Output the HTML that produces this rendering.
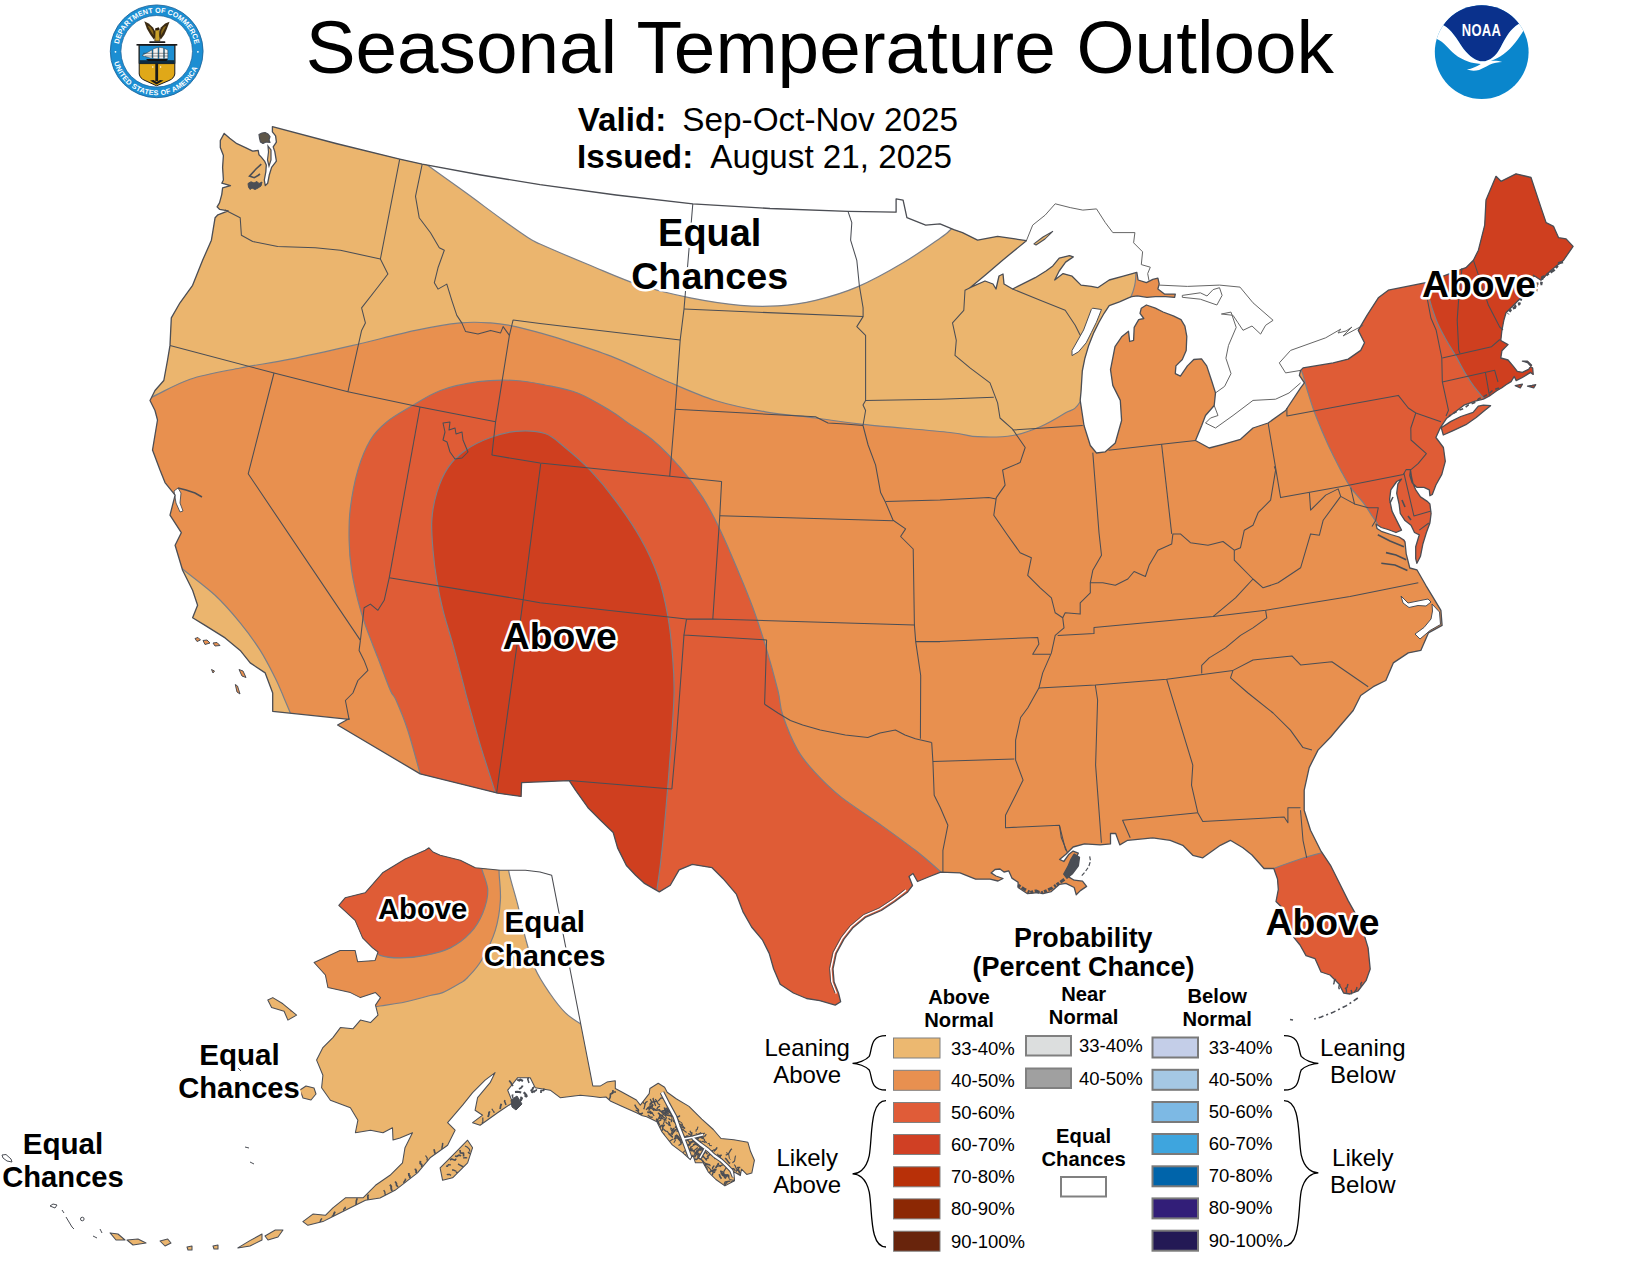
<!DOCTYPE html>
<html><head><meta charset="utf-8"><title>Seasonal Temperature Outlook</title>
<style>html,body{margin:0;padding:0;background:#fff}body{width:1638px;height:1266px;position:relative;overflow:hidden;font-family:"Liberation Sans",Arial,sans-serif}</style>
</head><body>
<svg width="1638" height="1266" viewBox="0 0 1638 1266" style="position:absolute;left:0;top:0">
<defs>
<clipPath id="us"><path d="M224.2,133.4 L229.7,138.2 L236.9,143.7 L245.5,147.6 L252.7,151.2 L258.2,150.4 L259.0,154.8 L261.3,157.1 L264.5,161.1 L266.3,165.0 L265.8,172.0 L264.3,180.0 L265.3,185.6 L267.7,183.2 L269.2,175.3 L271.6,167.4 L276.4,161.1 L274.8,151.6 L273.2,146.9 L276.4,142.1 L275.6,135.8 L272.4,131.8 L272.4,126.7 L336.0,143.5 L399.7,159.1 L422.2,164.1 L481.0,175.0 L540.0,184.6 L616.0,195.0 L692.8,203.9 L770.0,208.5 L848.0,211.4 L896.1,212.2 L896.1,198.9 L903.1,200.2 L906.9,217.7 L925.7,225.2 L940.0,223.9 L953.8,229.6 L962.5,232.6 L977.6,240.2 L997.6,236.4 L1015.1,238.9 L1026.4,240.7 L1002.6,260.2 L985.1,275.2 L970.0,287.7 L985.0,281.0 L993.0,284.0 L996.0,289.0 L999.0,276.0 L1003.0,274.0 L1004.0,284.0 L1012.6,289.0 L1035.2,277.7 L1046.0,271.0 L1052.8,265.9 L1059.2,258.2 L1069.5,255.6 L1073.3,256.9 L1065.6,262.1 L1059.2,271.0 L1054.7,280.0 L1063.1,273.6 L1072.1,276.2 L1081.0,285.1 L1091.3,286.4 L1097.7,287.7 L1109.2,280.0 L1123.3,276.2 L1136.8,272.3 L1138.1,280.0 L1146.4,282.6 L1152.8,279.4 L1157.9,278.1 L1159.2,283.8 L1157.9,289.0 L1164.4,294.1 L1175.3,294.1 L1174.6,297.3 L1165.6,296.7 L1155.4,296.7 L1147.0,297.3 L1137.4,295.8 L1131.7,296.7 L1128.5,297.9 L1119.5,301.8 L1109.2,305.6 L1104.1,313.3 L1099.0,322.3 L1093.8,332.6 L1088.7,345.4 L1084.9,358.2 L1082.3,371.0 L1081.0,392.0 L1080.2,400.4 L1084.0,425.5 L1090.3,445.5 L1096.5,453.0 L1105.3,451.8 L1115.3,443.0 L1121.6,420.5 L1120.3,400.4 L1112.8,385.4 L1110.5,369.7 L1115.0,346.7 L1122.0,336.4 L1128.5,331.3 L1129.7,341.5 L1133.6,340.3 L1134.2,327.4 L1138.7,319.7 L1143.8,318.5 L1140.0,313.3 L1141.3,308.2 L1146.4,305.0 L1155.4,308.2 L1163.1,312.0 L1173.3,315.9 L1181.0,319.7 L1184.9,326.2 L1186.8,336.4 L1186.2,350.5 L1182.3,359.5 L1175.9,365.9 L1175.3,373.6 L1180.4,376.2 L1187.4,365.9 L1193.8,359.5 L1201.5,358.8 L1206.7,365.9 L1211.8,381.3 L1215.5,392.9 L1214.2,405.5 L1205.5,415.5 L1201.7,425.5 L1195.5,440.5 L1209.2,448.0 L1223.0,444.3 L1240.5,439.3 L1253.0,428.0 L1268.1,423.0 L1285.6,410.5 L1300.6,387.9 L1304.4,382.9 L1299.4,375.4 L1300.6,370.4 L1303.1,367.9 L1333.2,362.9 L1348.2,359.1 L1360.7,350.4 L1364.5,342.8 L1358.2,330.3 L1367.0,315.3 L1378.3,297.8 L1388.3,290.2 L1425.8,282.7 L1465.9,267.7 L1473.4,260.2 L1478.4,250.2 L1484.7,225.1 L1486.0,200.1 L1496.0,176.3 L1501.0,181.3 L1516.0,173.8 L1531.0,177.5 L1541.0,207.6 L1546.1,222.6 L1553.6,226.4 L1558.6,237.7 L1566.1,238.9 L1573.1,246.4 L1563.6,260.2 L1551.1,270.2 L1541.0,280.2 L1533.5,275.2 L1528.5,290.2 L1516.0,302.8 L1506.0,312.8 L1503.9,320.0 L1501.9,330.3 L1500.8,340.5 L1508.0,344.6 L1501.9,350.8 L1500.8,358.0 L1508.0,360.0 L1513.2,366.2 L1517.3,371.3 L1522.4,372.4 L1528.6,369.3 L1531.6,365.2 L1527.5,361.1 L1522.4,361.1 L1527.5,362.6 L1532.7,368.3 L1533.2,374.4 L1530.6,372.4 L1522.4,377.5 L1516.2,380.6 L1514.2,376.5 L1511.1,381.6 L1506.0,384.7 L1501.9,387.8 L1496.7,390.8 L1489.5,396.0 L1483.4,399.1 L1475.2,401.1 L1463.9,405.2 L1455.7,411.4 L1446.4,418.6 L1440.3,427.8 L1435.9,437.5 L1443.4,447.5 L1445.3,461.3 L1441.8,474.4 L1435.9,485.0 L1432.3,494.5 L1429.9,495.7 L1429.3,489.8 L1424.0,487.4 L1416.9,487.4 L1412.2,482.7 L1409.8,475.6 L1410.5,470.0 L1411.5,477.0 L1413.0,483.5 L1415.7,489.8 L1420.5,496.9 L1427.6,501.6 L1429.9,504.0 L1431.1,513.5 L1429.9,523.0 L1426.4,532.5 L1422.8,544.3 L1420.5,556.2 L1416.9,563.3 L1415.7,558.5 L1415.7,546.7 L1419.3,534.8 L1414.5,532.5 L1411.0,525.3 L1405.0,520.6 L1400.3,513.5 L1399.1,504.0 L1396.7,493.3 L1397.9,483.9 L1401.5,479.1 L1396.7,481.5 L1390.8,489.8 L1389.6,499.3 L1392.0,511.1 L1396.7,520.6 L1401.5,530.1 L1396.0,532.5 L1388.0,529.5 L1381.3,527.5 L1376.0,524.0 L1377.0,528.5 L1381.3,531.3 L1390.8,534.5 L1399.1,537.0 L1403.9,540.0 L1405.0,541.9 L1406.2,553.8 L1409.8,568.0 L1416.9,569.8 L1425.8,585.3 L1433.4,597.8 L1440.9,610.3 L1442.1,625.4 L1428.4,632.9 L1420.8,650.4 L1408.3,652.9 L1393.3,662.9 L1385.8,680.5 L1373.3,686.7 L1360.7,695.5 L1353.2,710.5 L1338.2,728.0 L1330.7,737.0 L1318.0,750.1 L1309.2,767.6 L1304.2,790.2 L1304.2,810.2 L1310.5,830.2 L1320.5,850.3 L1330.5,865.3 L1338.0,880.3 L1348.0,900.4 L1360.6,922.9 L1368.1,947.9 L1370.2,969.0 L1366.2,980.3 L1358.0,991.0 L1350.0,994.0 L1343.6,993.0 L1339.0,984.0 L1330.0,975.0 L1321.0,972.0 L1315.0,958.6 L1306.0,955.6 L1300.0,945.0 L1294.0,937.6 L1285.0,910.5 L1276.0,901.5 L1278.3,889.5 L1277.5,879.0 L1273.8,868.5 L1264.0,868.5 L1252.0,855.0 L1242.9,847.8 L1230.3,840.3 L1220.3,845.3 L1202.8,857.8 L1192.8,855.3 L1182.8,845.3 L1170.2,840.3 L1152.7,837.8 L1127.7,840.3 L1119.8,844.9 L1115.7,833.5 L1110.5,833.5 L1110.5,843.9 L1100.1,844.9 L1084.5,843.9 L1073.1,847.0 L1065.9,854.2 L1059.6,859.4 L1063.8,861.5 L1069.0,854.2 L1073.1,851.1 L1078.3,853.2 L1074.2,861.5 L1070.0,869.8 L1069.0,877.1 L1074.2,880.2 L1082.5,881.2 L1086.6,886.4 L1080.4,890.6 L1076.2,894.7 L1074.2,887.5 L1065.9,883.3 L1059.6,884.3 L1051.3,891.6 L1043.0,893.7 L1037.8,892.7 L1027.5,893.7 L1018.1,887.5 L1018.1,882.3 L1011.9,878.1 L1008.8,870.9 L1004.0,872.0 L1000.0,869.0 L995.0,869.5 L991.1,872.9 L996.0,876.0 L1003.0,878.5 L998.0,881.0 L990.1,879.2 L975.6,879.2 L960.0,872.9 L940.7,872.1 L929.7,876.5 L917.5,881.5 L913.0,873.5 L909.0,876.5 L912.5,885.5 L907.7,891.9 L894.5,901.8 L881.3,910.5 L865.9,917.1 L852.7,928.1 L844.0,939.1 L836.3,953.4 L833.0,968.8 L834.1,982.0 L838.5,993.0 L840.7,1001.8 L835.2,1005.1 L819.8,1000.7 L806.6,998.5 L793.4,993.0 L780.2,984.2 L773.6,968.8 L769.2,953.4 L762.6,940.2 L751.6,927.0 L742.9,911.6 L736.3,894.1 L723.1,878.7 L712.1,867.7 L692.3,864.4 L679.1,869.9 L670.3,885.3 L659.3,891.9 L644.0,883.1 L635.6,875.3 L626.4,865.5 L617.6,847.9 L613.2,832.5 L600.5,820.2 L588.0,807.7 L575.5,790.2 L569.2,780.6 L521.6,782.6 L521.1,796.4 L497.8,793.2 L420.2,773.9 L337.6,725.0 L348.8,718.8 L349.1,719.3 L272.7,711.3 L272.7,693.0 L265.2,672.9 L250.2,662.9 L240.2,650.4 L225.1,637.9 L205.1,625.4 L192.6,617.8 L197.6,605.3 L192.6,590.3 L182.6,570.3 L175.1,545.2 L181.3,532.7 L170.0,515.2 L175.1,495.1 L165.0,482.6 L160.0,470.1 L152.5,450.0 L157.5,420.0 L155.0,410.5 L150.0,400.5 L155.0,390.5 L163.8,380.5 L167.5,360.4 L170.0,345.4 L171.3,317.9 L180.0,302.8 L192.6,285.3 L202.6,260.3 L211.4,240.2 L215.1,217.7 L217.9,214.8 L228.2,210.8 L219.5,209.3 L217.1,206.9 L219.5,202.9 L221.8,194.3 L222.6,187.9 L230.5,185.6 L221.8,183.2 L223.4,180.0 L222.6,167.4 L223.4,155.5 L220.3,147.6 L220.3,140.5ZM1441.3,427.8 L1450.5,421.6 L1460.8,416.5 L1473.1,412.4 L1478.3,406.2 L1483.4,405.2 L1490.6,405.7 L1483.4,411.4 L1476.2,417.5 L1465.9,424.7 L1452.6,430.9 L1443.3,435.0ZM1515.2,385.7 L1522.4,384.2 L1520.3,387.8ZM1527.5,386.2 L1533.7,387.8 L1535.7,384.7 L1532.0,385.5Z"/></clipPath>
<clipPath id="ak"><path d="M338.8,905.4 L345.1,897.8 L365.1,892.8 L382.6,872.8 L405.2,859.0 L425.2,850.3 L429.0,847.8 L433.0,852.0 L440.2,855.3 L460.3,860.3 L475.3,867.8 L500.4,870.3 L525.4,870.3 L540.0,872.0 L551.7,875.3 L592.8,1085.9 L600.5,1085.9 L606.9,1082.1 L615.3,1080.8 L615.3,1088.5 L622.3,1092.3 L636.4,1100.0 L640.3,1105.1 L649.2,1093.6 L649.9,1088.5 L658.2,1083.3 L664.6,1087.2 L667.2,1092.3 L676.2,1098.7 L689.0,1106.4 L701.8,1119.2 L713.3,1129.5 L721.0,1138.5 L733.8,1139.7 L747.9,1142.3 L750.5,1151.3 L754.4,1160.3 L751.8,1173.1 L746.7,1174.4 L741.5,1169.2 L740.3,1175.6 L733.8,1171.8 L734.5,1180.8 L724.9,1185.9 L715.9,1179.5 L708.2,1171.8 L703.1,1162.8 L695.4,1162.8 L693.0,1155.0 L690.3,1159.6 L682.6,1152.6 L672.3,1144.9 L662.0,1132.0 L656.9,1121.8 L646.7,1116.7 L641.5,1115.4 L636.4,1112.8 L622.3,1106.4 L610.8,1101.3 L606.0,1097.0 L600.0,1097.5 L592.8,1096.4 L580.3,1095.2 L560.2,1097.7 L550.2,1090.2 L535.2,1087.7 L530.2,1077.7 L517.7,1077.7 L507.7,1090.2 L512.7,1102.7 L497.6,1112.7 L480.1,1125.2 L472.6,1122.7 L482.6,1115.2 L475.1,1110.2 L477.6,1097.7 L490.1,1082.7 L495.1,1072.6 L485.1,1080.2 L472.6,1092.7 L462.6,1105.2 L447.6,1122.7 L455.1,1130.2 L447.6,1145.2 L430.1,1157.8 L417.5,1172.8 L395.0,1190.3 L380.0,1198.0 L365.5,1200.3 L350.4,1207.8 L335.4,1215.3 L322.9,1221.6 L307.9,1225.3 L302.9,1221.6 L312.9,1214.1 L325.4,1215.3 L332.9,1207.8 L345.4,1197.8 L363.0,1197.8 L375.5,1185.3 L390.0,1175.3 L402.5,1162.8 L405.0,1147.7 L412.5,1132.7 L400.0,1138.0 L393.0,1140.0 L392.5,1127.7 L383.0,1132.7 L370.5,1130.2 L355.4,1132.7 L357.9,1120.2 L350.4,1107.7 L330.4,1100.2 L321.6,1087.7 L322.9,1075.2 L316.6,1060.1 L322.9,1047.6 L332.9,1037.6 L340.4,1027.6 L352.9,1028.8 L360.4,1020.1 L370.5,1022.6 L378.0,1015.1 L375.5,1005.1 L380.5,997.6 L375.5,992.6 L360.4,997.6 L350.4,992.6 L327.9,987.5 L325.4,975.0 L314.1,962.5 L340.1,950.4 L355.1,950.4 L357.6,961.7 L375.1,960.4 L378.0,952.0 L372.6,947.9 L362.6,937.9 L355.1,920.4ZM267.8,1000.0 L272.8,997.6 L282.9,1003.8 L296.6,1015.1 L287.9,1020.1 L284.1,1011.3 L271.6,1007.6ZM300.0,1090.0 L306.0,1086.0 L314.0,1088.0 L316.0,1094.0 L311.0,1100.0 L303.0,1098.0ZM440.1,1167.8 L455.1,1152.8 L467.6,1140.2 L472.6,1147.7 L467.6,1162.8 L452.6,1177.8 L442.6,1180.3ZM237.8,1247.9 L250.3,1240.4 L262.0,1234.0 L262.0,1240.0 L250.0,1246.0ZM265.0,1236.0 L275.3,1230.0 L283.0,1230.0 L278.0,1237.0 L268.0,1240.0ZM110.1,1232.9 L118.0,1234.0 L125.0,1240.0 L116.0,1240.0ZM127.0,1240.0 L138.0,1239.0 L146.0,1243.0 L133.0,1245.0ZM160.0,1241.0 L167.7,1239.0 L171.0,1243.0 L165.0,1246.0ZM187.0,1247.0 L192.0,1246.0 L192.0,1250.0 L188.0,1250.0ZM213.0,1246.0 L218.0,1245.0 L218.0,1249.0 L214.0,1249.0Z"/></clipPath>
</defs>
<g clip-path="url(#us)">
<rect x="100" y="100" width="1538" height="950" fill="#e8904f"/>
<path d="M120.0,410.0C125.0,408.0 138.3,403.1 150.0,398.0C161.7,392.9 175.1,384.2 190.1,379.2C205.1,374.2 223.5,371.3 240.2,368.0C256.9,364.7 271.5,363.0 290.3,359.2C309.1,355.4 332.0,350.2 352.9,345.4C373.8,340.6 397.6,334.1 415.5,330.4C433.4,326.6 448.1,324.1 460.6,322.9C473.1,321.6 481.4,322.3 490.6,322.9C499.8,323.5 507.5,324.9 515.7,326.6C523.9,328.3 531.8,330.6 540.0,332.9C548.2,335.2 552.5,336.2 565.0,340.4C577.5,344.6 598.4,351.2 615.1,357.9C631.8,364.6 648.5,373.4 665.2,380.5C681.9,387.6 698.6,395.3 715.3,400.5C732.0,405.7 748.7,408.9 765.4,411.8C782.1,414.7 799.2,415.9 815.5,418.0C831.8,420.1 840.6,421.9 863.0,424.3C885.4,426.7 930.9,430.4 950.0,432.5C969.1,434.6 967.2,436.2 977.6,436.7C988.0,437.2 1002.2,437.2 1012.6,435.5C1023.0,433.8 1031.4,430.4 1040.2,426.7C1049.0,422.9 1058.5,417.2 1065.2,413.0C1071.9,408.8 1073.6,412.2 1080.2,401.7C1086.8,391.2 1096.4,367.7 1105.0,350.0C1113.6,332.3 1126.4,308.3 1131.6,295.3C1136.8,282.3 1135.1,281.2 1136.0,272.0C1136.9,262.8 1136.8,245.3 1137.0,240.0L1137,100 L100,100 L100,410Z" fill="#ebb56e"/>
<path d="M170.0,557.0C172.1,559.0 175.1,562.6 182.6,569.0C190.1,575.4 205.5,586.3 215.1,595.3C224.7,604.3 232.7,613.7 240.2,622.9C247.7,632.1 254.4,641.2 260.2,650.4C266.0,659.6 271.2,670.0 275.2,677.9C279.2,685.8 281.5,692.1 284.0,698.0C286.5,703.9 288.6,708.5 290.3,713.0C292.0,717.5 293.4,723.0 294.0,725.0L150,730 L130,557Z" fill="#ebb56e"/>
<path d="M415.0,155.0C417.2,156.8 419.6,159.3 428.0,165.6C436.4,171.9 453.1,183.5 465.6,192.6C478.1,201.7 492.7,212.7 503.1,220.2C513.5,227.7 522.1,233.7 528.2,237.7C534.4,241.7 529.7,239.4 540.0,244.0C550.3,248.6 573.3,258.4 590.0,265.3C606.7,272.2 623.5,279.9 640.2,285.3C656.9,290.7 673.6,294.5 690.3,297.8C707.0,301.1 725.7,304.0 740.3,305.3C754.9,306.6 765.4,306.6 777.9,305.8C790.4,305.0 802.1,303.5 815.5,300.3C828.9,297.1 843.4,292.9 858.0,286.6C872.6,280.4 889.3,271.0 903.1,262.8C916.9,254.7 932.9,243.1 940.7,237.7C948.5,232.3 946.5,233.5 950.0,230.2C953.5,226.9 960.0,220.0 962.0,218.0L962,100 L415,100Z" fill="#fff"/>
<path d="M430.0,810.0C428.4,804.0 423.9,787.2 420.2,773.9C416.5,760.6 411.7,742.3 407.7,730.0C403.7,717.7 398.9,706.6 396.0,700.0C393.1,693.4 393.4,697.5 390.4,690.5C387.4,683.5 382.1,668.8 377.9,657.9C373.7,647.0 368.7,635.0 365.4,625.4C362.1,615.8 360.2,609.5 357.9,600.3C355.6,591.1 353.1,580.3 351.6,570.3C350.1,560.3 349.3,550.6 349.1,540.2C348.9,529.8 348.9,519.4 350.4,507.7C351.9,496.0 354.6,481.4 357.9,470.1C361.2,458.8 365.6,448.0 370.4,440.0C375.2,432.0 380.0,427.5 386.7,422.0C393.4,416.5 401.5,412.1 410.5,406.8C419.5,401.6 429.2,394.7 440.5,390.5C451.8,386.3 465.6,383.4 478.1,381.7C490.6,380.0 504.6,379.9 515.7,380.5C526.9,381.1 534.7,382.9 545.0,385.0C555.3,387.1 566.8,388.8 577.6,393.0C588.5,397.2 601.7,405.5 610.1,410.5C618.5,415.5 620.9,418.1 628.0,423.0C635.1,427.9 644.0,432.6 652.7,440.0C661.4,447.4 671.9,458.0 680.2,467.6C688.6,477.2 696.1,487.2 702.8,497.6C709.5,508.0 714.5,518.1 720.3,530.2C726.1,542.3 732.4,557.4 737.8,570.3C743.2,583.2 748.3,595.3 752.9,607.8C757.5,620.3 761.2,631.6 765.4,645.4C769.6,659.2 775.0,678.9 777.9,690.5C780.8,702.1 779.4,705.1 782.7,715.0C786.0,724.9 792.3,740.5 797.7,750.1C803.1,759.7 808.1,764.9 815.2,772.6C822.3,780.3 829.9,788.0 840.3,796.4C850.7,804.8 865.3,813.7 877.8,822.7C890.3,831.7 905.0,842.2 915.4,850.3C925.8,858.4 933.8,865.7 940.4,871.5C947.0,877.3 952.6,882.8 955.0,885.0L955,1030 L430,1030Z" fill="#df5c36"/>
<path d="M505.0,830.0C503.4,823.8 499.4,806.9 495.3,792.7C491.2,778.6 484.9,760.6 480.3,745.1C475.7,729.6 470.4,710.4 467.5,700.0C464.6,689.6 465.5,692.1 463.1,683.0C460.7,673.9 456.5,657.5 453.1,645.4C449.8,633.3 445.7,621.1 443.0,610.3C440.3,599.4 438.5,590.3 436.8,580.3C435.1,570.3 433.8,560.2 433.0,550.2C432.2,540.2 431.2,529.8 431.8,520.2C432.4,510.6 434.1,501.4 436.8,492.6C439.5,483.8 443.2,474.7 448.0,467.6C452.8,460.5 458.5,455.0 465.6,450.0C472.7,445.0 482.2,440.6 490.6,437.5C499.0,434.4 506.6,432.0 515.7,431.3C524.8,430.6 536.8,430.8 545.0,433.5C553.2,436.2 557.5,441.4 565.0,447.5C572.5,453.6 581.8,461.3 590.1,470.1C598.5,478.9 606.8,488.8 615.1,500.1C623.5,511.4 633.1,525.2 640.2,537.7C647.3,550.2 653.1,562.4 657.7,575.3C662.3,588.2 665.2,601.5 667.7,615.3C670.2,629.1 671.7,644.5 672.7,657.9C673.8,671.3 674.4,680.1 674.0,695.5C673.6,710.9 672.0,730.6 670.6,750.1C669.2,769.6 667.3,793.9 665.6,812.7C663.9,831.5 662.1,849.9 660.6,862.8C659.1,875.7 658.0,881.6 656.9,890.3C655.8,899.0 654.5,910.9 654.0,915.0L654,1000 L505,1000Z" fill="#cf3f1f"/>
<path d="M1298.0,355.0C1298.4,357.1 1299.8,364.5 1300.6,367.9C1301.4,371.3 1301.8,371.2 1303.1,375.4C1304.3,379.6 1306.0,386.2 1308.1,392.9C1310.2,399.6 1312.3,406.8 1315.7,415.5C1319.1,424.2 1324.0,435.9 1328.2,445.0C1332.4,454.1 1337.0,463.0 1340.7,470.1C1344.5,477.2 1347.0,482.2 1350.7,487.6C1354.5,493.0 1359.4,497.6 1363.2,502.6C1367.0,507.6 1370.5,513.8 1373.3,517.7C1376.1,521.6 1376.9,523.5 1380.0,526.0C1383.1,528.5 1388.2,530.5 1392.0,533.0C1395.8,535.5 1400.1,538.0 1403.0,541.0C1405.9,544.0 1407.8,547.7 1409.5,551.0C1411.2,554.3 1411.8,558.4 1413.0,561.0C1414.2,563.6 1412.5,565.3 1417.0,566.5C1421.5,567.7 1436.2,567.8 1440.0,568.0L1640,592 L1640,100 L1298,100Z" fill="#df5c36"/>
<path d="M1426.0,275.0C1426.2,276.7 1426.6,281.6 1427.0,285.0C1427.4,288.4 1426.9,289.5 1428.4,295.3C1429.9,301.1 1433.4,312.8 1436.2,320.0C1439.0,327.2 1442.2,332.5 1445.4,338.5C1448.7,344.5 1452.3,349.9 1455.7,355.9C1459.1,361.9 1462.8,369.3 1465.9,374.4C1469.0,379.5 1471.2,382.8 1474.1,386.7C1477.0,390.6 1479.9,393.9 1483.4,398.0C1486.9,402.1 1493.1,408.8 1495.0,411.0L1640,412 L1640,100 L1426,100Z" fill="#cf3f1f"/>
<path d="M1255.0,876.0C1258.2,874.7 1265.8,871.4 1274.2,868.3C1282.6,865.2 1297.6,859.9 1305.5,857.3C1313.4,854.7 1316.0,854.5 1321.7,852.8C1327.5,851.1 1337.0,848.0 1340.0,847.0L1400,847 L1400,1010 L1255,1010Z" fill="#df5c36"/>
<path d="M120.0,410.0C125.0,408.0 138.3,403.1 150.0,398.0C161.7,392.9 175.1,384.2 190.1,379.2C205.1,374.2 223.5,371.3 240.2,368.0C256.9,364.7 271.5,363.0 290.3,359.2C309.1,355.4 332.0,350.2 352.9,345.4C373.8,340.6 397.6,334.1 415.5,330.4C433.4,326.6 448.1,324.1 460.6,322.9C473.1,321.6 481.4,322.3 490.6,322.9C499.8,323.5 507.5,324.9 515.7,326.6C523.9,328.3 531.8,330.6 540.0,332.9C548.2,335.2 552.5,336.2 565.0,340.4C577.5,344.6 598.4,351.2 615.1,357.9C631.8,364.6 648.5,373.4 665.2,380.5C681.9,387.6 698.6,395.3 715.3,400.5C732.0,405.7 748.7,408.9 765.4,411.8C782.1,414.7 799.2,415.9 815.5,418.0C831.8,420.1 840.6,421.9 863.0,424.3C885.4,426.7 930.9,430.4 950.0,432.5C969.1,434.6 967.2,436.2 977.6,436.7C988.0,437.2 1002.2,437.2 1012.6,435.5C1023.0,433.8 1031.4,430.4 1040.2,426.7C1049.0,422.9 1058.5,417.2 1065.2,413.0C1071.9,408.8 1073.6,412.2 1080.2,401.7C1086.8,391.2 1096.4,367.7 1105.0,350.0C1113.6,332.3 1126.4,308.3 1131.6,295.3C1136.8,282.3 1135.1,281.2 1136.0,272.0C1136.9,262.8 1136.8,245.3 1137.0,240.0" fill="none" stroke="#7b7f87" stroke-width="1.2"/>
<path d="M170.0,557.0C172.1,559.0 175.1,562.6 182.6,569.0C190.1,575.4 205.5,586.3 215.1,595.3C224.7,604.3 232.7,613.7 240.2,622.9C247.7,632.1 254.4,641.2 260.2,650.4C266.0,659.6 271.2,670.0 275.2,677.9C279.2,685.8 281.5,692.1 284.0,698.0C286.5,703.9 288.6,708.5 290.3,713.0C292.0,717.5 293.4,723.0 294.0,725.0" fill="none" stroke="#7b7f87" stroke-width="1.2"/>
<path d="M415.0,155.0C417.2,156.8 419.6,159.3 428.0,165.6C436.4,171.9 453.1,183.5 465.6,192.6C478.1,201.7 492.7,212.7 503.1,220.2C513.5,227.7 522.1,233.7 528.2,237.7C534.4,241.7 529.7,239.4 540.0,244.0C550.3,248.6 573.3,258.4 590.0,265.3C606.7,272.2 623.5,279.9 640.2,285.3C656.9,290.7 673.6,294.5 690.3,297.8C707.0,301.1 725.7,304.0 740.3,305.3C754.9,306.6 765.4,306.6 777.9,305.8C790.4,305.0 802.1,303.5 815.5,300.3C828.9,297.1 843.4,292.9 858.0,286.6C872.6,280.4 889.3,271.0 903.1,262.8C916.9,254.7 932.9,243.1 940.7,237.7C948.5,232.3 946.5,233.5 950.0,230.2C953.5,226.9 960.0,220.0 962.0,218.0" fill="none" stroke="#7b7f87" stroke-width="1.2"/>
<path d="M430.0,810.0C428.4,804.0 423.9,787.2 420.2,773.9C416.5,760.6 411.7,742.3 407.7,730.0C403.7,717.7 398.9,706.6 396.0,700.0C393.1,693.4 393.4,697.5 390.4,690.5C387.4,683.5 382.1,668.8 377.9,657.9C373.7,647.0 368.7,635.0 365.4,625.4C362.1,615.8 360.2,609.5 357.9,600.3C355.6,591.1 353.1,580.3 351.6,570.3C350.1,560.3 349.3,550.6 349.1,540.2C348.9,529.8 348.9,519.4 350.4,507.7C351.9,496.0 354.6,481.4 357.9,470.1C361.2,458.8 365.6,448.0 370.4,440.0C375.2,432.0 380.0,427.5 386.7,422.0C393.4,416.5 401.5,412.1 410.5,406.8C419.5,401.6 429.2,394.7 440.5,390.5C451.8,386.3 465.6,383.4 478.1,381.7C490.6,380.0 504.6,379.9 515.7,380.5C526.9,381.1 534.7,382.9 545.0,385.0C555.3,387.1 566.8,388.8 577.6,393.0C588.5,397.2 601.7,405.5 610.1,410.5C618.5,415.5 620.9,418.1 628.0,423.0C635.1,427.9 644.0,432.6 652.7,440.0C661.4,447.4 671.9,458.0 680.2,467.6C688.6,477.2 696.1,487.2 702.8,497.6C709.5,508.0 714.5,518.1 720.3,530.2C726.1,542.3 732.4,557.4 737.8,570.3C743.2,583.2 748.3,595.3 752.9,607.8C757.5,620.3 761.2,631.6 765.4,645.4C769.6,659.2 775.0,678.9 777.9,690.5C780.8,702.1 779.4,705.1 782.7,715.0C786.0,724.9 792.3,740.5 797.7,750.1C803.1,759.7 808.1,764.9 815.2,772.6C822.3,780.3 829.9,788.0 840.3,796.4C850.7,804.8 865.3,813.7 877.8,822.7C890.3,831.7 905.0,842.2 915.4,850.3C925.8,858.4 933.8,865.7 940.4,871.5C947.0,877.3 952.6,882.8 955.0,885.0" fill="none" stroke="#7b7f87" stroke-width="1.2"/>
<path d="M505.0,830.0C503.4,823.8 499.4,806.9 495.3,792.7C491.2,778.6 484.9,760.6 480.3,745.1C475.7,729.6 470.4,710.4 467.5,700.0C464.6,689.6 465.5,692.1 463.1,683.0C460.7,673.9 456.5,657.5 453.1,645.4C449.8,633.3 445.7,621.1 443.0,610.3C440.3,599.4 438.5,590.3 436.8,580.3C435.1,570.3 433.8,560.2 433.0,550.2C432.2,540.2 431.2,529.8 431.8,520.2C432.4,510.6 434.1,501.4 436.8,492.6C439.5,483.8 443.2,474.7 448.0,467.6C452.8,460.5 458.5,455.0 465.6,450.0C472.7,445.0 482.2,440.6 490.6,437.5C499.0,434.4 506.6,432.0 515.7,431.3C524.8,430.6 536.8,430.8 545.0,433.5C553.2,436.2 557.5,441.4 565.0,447.5C572.5,453.6 581.8,461.3 590.1,470.1C598.5,478.9 606.8,488.8 615.1,500.1C623.5,511.4 633.1,525.2 640.2,537.7C647.3,550.2 653.1,562.4 657.7,575.3C662.3,588.2 665.2,601.5 667.7,615.3C670.2,629.1 671.7,644.5 672.7,657.9C673.8,671.3 674.4,680.1 674.0,695.5C673.6,710.9 672.0,730.6 670.6,750.1C669.2,769.6 667.3,793.9 665.6,812.7C663.9,831.5 662.1,849.9 660.6,862.8C659.1,875.7 658.0,881.6 656.9,890.3C655.8,899.0 654.5,910.9 654.0,915.0" fill="none" stroke="#7b7f87" stroke-width="1.2"/>
<path d="M1298.0,355.0C1298.4,357.1 1299.8,364.5 1300.6,367.9C1301.4,371.3 1301.8,371.2 1303.1,375.4C1304.3,379.6 1306.0,386.2 1308.1,392.9C1310.2,399.6 1312.3,406.8 1315.7,415.5C1319.1,424.2 1324.0,435.9 1328.2,445.0C1332.4,454.1 1337.0,463.0 1340.7,470.1C1344.5,477.2 1347.0,482.2 1350.7,487.6C1354.5,493.0 1359.4,497.6 1363.2,502.6C1367.0,507.6 1370.8,514.1 1373.3,517.7C1375.8,521.4 1377.2,523.4 1378.0,524.5" fill="none" stroke="#7b7f87" stroke-width="1.2"/>
<path d="M1426.0,275.0C1426.2,276.7 1426.6,281.6 1427.0,285.0C1427.4,288.4 1426.9,289.5 1428.4,295.3C1429.9,301.1 1433.4,312.8 1436.2,320.0C1439.0,327.2 1442.2,332.5 1445.4,338.5C1448.7,344.5 1452.3,349.9 1455.7,355.9C1459.1,361.9 1462.8,369.3 1465.9,374.4C1469.0,379.5 1471.2,382.8 1474.1,386.7C1477.0,390.6 1479.9,393.9 1483.4,398.0C1486.9,402.1 1493.1,408.8 1495.0,411.0" fill="none" stroke="#7b7f87" stroke-width="1.2"/>
<path d="M1255.0,876.0C1258.2,874.7 1265.8,871.4 1274.2,868.3C1282.6,865.2 1297.6,859.9 1305.5,857.3C1313.4,854.7 1316.0,854.5 1321.7,852.8C1327.5,851.1 1337.0,848.0 1340.0,847.0" fill="none" stroke="#7b7f87" stroke-width="1.2"/>
<path d="M1092.6,308.2 L1101.5,309.5 L1096.4,322.3 L1091.3,332.6 L1086.2,342.8 L1078.5,351.8 L1072.0,355.6 L1072.0,350.5 L1078.5,339.0 L1083.6,330.0 L1091.3,309.5Z" fill="#fff" stroke="#4b4e55" stroke-width="1"/>
<path d="M261.3,164.2 L256.0,169.0 L249.5,176.1 L254.2,177.7 L258.0,175.5 L260.0,174.0" fill="none" stroke="#4b4e55" stroke-width="1.6"/>
<path d="M248.0,183.5 L251.0,181.8 L254.0,183.0 L257.0,181.5 L259.0,183.5 L262.0,182.0 L261.0,186.0 L258.0,188.0 L255.0,189.5 L252.0,188.0 L250.0,189.5 L248.5,187.0Z" fill="#4b4e55" stroke="#4b4e55" stroke-width="1" stroke-linejoin="round"/>
<path d="M1401,596 L1408,603 L1418,601 L1428,599 L1431,602 L1426,606 L1418,605.5 L1409,607.5 L1403,603Z M1432,604 L1439.5,612 L1440.5,624.5 L1430,630.5 L1420,639 L1415,634 L1424,627.5 L1431,619 L1432.5,611Z" fill="#fff" stroke="#4b4e55" stroke-width="1"/>
<path d="M174,491 L178,488 L181,493 L180,503 L183,511 L180,512 L176,503Z" fill="#fff" stroke="#4b4e55" stroke-width="0.9"/>
<path d="M178,488 L186,490 L195,493 L202,497" fill="none" stroke="#4b4e55" stroke-width="1.5"/>
<path d="M836.3,993.5 L831.9,982.3 L830.8,968.8 L834.2,952.8 L842.2,938 L851.2,926.5 L864.7,915.2 L880.2,908.6 L893.3,900 L906,890.2" fill="none" stroke="#fff" stroke-width="1.5"/><path d="M836.3,993.5 L831.9,982.3 L830.8,968.8 L834.2,952.8 L842.2,938 L851.2,926.5 L864.7,915.2 L880.2,908.6 L893.3,900 L906,890.2" fill="none" stroke="#4b4e55" stroke-width="0.9" transform="translate(-1.3,-0.5)"/>
</g>
<path d="M1563.0,262.0 L1559.0,263.1 L1557.7,265.6 L1554.0,270.0 L1548.5,273.6 L1545.3,276.1 L1542.4,277.2 L1541.2,283.9 L1536.6,283.7 L1536.2,290.3 L1532.8,290.4 L1531.9,291.4 L1528.2,295.6 L1521.4,297.6 L1519.2,304.1 L1515.5,305.8 L1514.8,307.6 L1511.3,308.8 L1508.0,314.0" fill="none" stroke="#4b4e55" stroke-width="2.6" stroke-dasharray="5 2 3 2"/>
<path d="M1499.0,388.0 L1492.9,390.1 L1489.4,393.4 L1483.6,396.6 L1478.9,398.7 L1474.7,402.5 L1468.4,405.0 L1464.1,408.5 L1459.6,409.9 L1455.2,412.3 L1449.0,416.0" fill="none" stroke="#4b4e55" stroke-width="1.6" stroke-dasharray="4 3"/>
<g fill="none" stroke="#4b4e55" stroke-width="1.05" stroke-linejoin="round">
<path d="M225.0,210.0 L240.2,217.7 L241.4,235.2 L252.7,241.5 L277.7,246.5 L315.3,247.7 L340.4,250.3 L380.4,259.0"/>
<path d="M399.7,159.1 L380.4,259.0 L387.9,274.0 L375.4,290.3 L361.6,307.9 L365.4,322.9 L361.6,330.4 L347.9,391.8"/>
<path d="M170.0,345.4 L274.0,373.0 L347.9,391.8 L420.0,407.0 L495.6,421.8"/>
<path d="M274.0,373.0 L248.2,473.8 L360.4,640.4"/>
<path d="M360.4,640.4 L359.1,650.4 L364.1,660.4 L367.9,670.4 L357.9,680.5 L352.9,693.0 L345.4,700.5 L349.1,719.3"/>
<path d="M360.4,640.4 L364.1,607.8 L370.4,604.1 L377.9,610.3 L384.2,600.3 L389.2,577.8"/>
<path d="M420.0,407.0 L389.2,577.8"/>
<path d="M389.2,577.8 L523.2,599.8 L540.0,602.8 L686.5,619.1 L712.8,619.1 L914.4,624.9"/>
<path d="M422.2,164.1 L415.5,196.4 L419.2,217.7 L430.5,232.7 L439.3,247.7 L444.3,250.3 L438.0,267.8 L434.3,282.8 L438.0,289.1 L446.8,284.1 L451.8,300.3 L456.8,315.4 L461.8,322.9 L465.6,331.6 L478.0,334.0 L490.6,330.4 L500.6,332.9 L503.1,326.6 L509.4,335.4"/>
<path d="M513.1,319.9 L509.4,335.4 L495.6,421.8 L491.9,455.1"/>
<path d="M513.1,319.9 L540.0,323.4 L680.2,339.9"/>
<path d="M491.9,455.1 L540.0,463.1 L721.6,481.4"/>
<path d="M540.7,463.8 L523.2,599.8"/>
<path d="M523.2,599.8 L496.6,793.2"/>
<path d="M692.8,203.9 L684.0,309.1 L680.2,339.9 L675.2,409.3 L669.7,476.3"/>
<path d="M684.0,309.1 L863.1,316.6"/>
<path d="M675.2,409.3 L815.5,416.8 L828.0,423.0 L845.0,424.0 L863.0,425.5"/>
<path d="M848.0,211.4 L851.8,222.7 L850.6,240.2 L856.8,260.3 L859.3,285.3 L863.1,307.8 L863.1,316.6 L856.8,326.6 L865.6,335.4 L865.6,400.5 L863.0,405.0 L865.6,410.5 L863.0,425.5"/>
<path d="M865.0,400.5 L940.0,399.2 L993.8,397.2"/>
<path d="M721.6,481.4 L719.8,515.7 L712.8,619.1"/>
<path d="M719.8,515.7 L893.1,520.7"/>
<path d="M686.5,619.1 L684.0,634.9 L766.6,639.9 L764.6,704.2"/>
<path d="M684.0,634.9 L676.5,737.0 L671.9,788.9"/>
<path d="M569.2,780.6 L671.9,788.9"/>
<path d="M764.6,704.2 L777.9,713.0 L790.4,720.5 L802.7,725.0 L820.2,730.0 L845.3,735.1 L867.8,737.6 L880.0,733.0 L895.4,730.0 L905.0,735.0 L915.4,738.8 L931.7,742.6"/>
<path d="M863.0,425.5 L868.1,445.0 L875.6,465.1 L880.6,492.6 L885.6,502.6 L893.1,520.2 L905.6,528.9 L900.6,536.5 L913.2,549.0 L914.4,624.9 L915.7,641.6 L920.7,675.5 L920.4,738.8"/>
<path d="M885.6,501.4 L940.0,500.1 L988.8,497.6 L996.0,499.0"/>
<path d="M915.7,641.6 L940.0,641.6 L1037.7,637.4 L1038.9,644.1 L1032.7,654.2 L1050.2,654.2"/>
<path d="M931.7,742.6 L932.9,761.4 L934.2,795.2 L940.4,807.7 L947.9,825.2 L942.9,850.3 L942.9,872.8"/>
<path d="M932.9,761.4 L1014.3,758.9"/>
<path d="M970.0,287.7 L965.0,290.2 L963.8,310.3 L952.5,322.8 L956.3,340.3 L955.0,355.4 L970.0,367.9 L990.0,382.9 L997.6,402.9 L1000.0,418.0 L1012.6,429.2 L1025.2,447.5 L1020.1,462.6 L1002.6,470.1 L1005.1,485.1 L996.3,497.6 L993.8,515.2 L1007.6,535.2 L1020.1,552.7 L1031.4,557.7 L1027.7,575.3 L1040.2,587.8 L1051.4,597.8 L1055.2,612.8 L1062.7,617.8 L1064.0,627.9 L1055.2,635.4 L1051.4,652.9 L1042.7,672.9 L1038.9,688.0 L1027.7,708.0 L1020.6,717.5 L1015.6,740.1 L1015.6,760.1 L1023.1,780.1 L1015.6,795.2 L1005.5,815.2 L1005.5,827.7 L1059.4,825.2 L1065.7,850.3"/>
<path d="M1012.6,430.0 L1082.7,425.5"/>
<path d="M1012.6,289.0 L1040.2,300.3 L1065.2,310.3 L1075.2,325.3 L1080.2,335.3"/>
<path d="M1092.8,452.6 L1099.0,532.7 L1101.5,555.2 L1092.8,570.3 L1090.3,582.8"/>
<path d="M1062.7,617.8 L1065.2,612.8 L1080.2,614.1 L1080.2,602.8 L1090.3,592.8 L1090.3,582.8 L1102.8,582.8 L1115.3,585.3 L1127.8,579.0 L1134.1,571.5 L1145.4,576.5 L1149.1,565.3 L1157.9,550.2 L1171.7,544.0 L1172.9,533.9 L1180.4,533.9 L1190.4,542.7 L1208.0,545.2 L1223.0,541.5 L1234.3,550.2 L1240.5,547.7 L1244.3,530.2 L1253.0,525.2 L1258.1,512.7 L1270.6,500.1 L1275.6,470.1 L1274.3,466.3"/>
<path d="M1108.5,450.3 L1161.6,444.3 L1195.5,440.5"/>
<path d="M1161.6,444.3 L1171.7,533.9"/>
<path d="M1268.1,423.0 L1280.6,497.6 L1350.0,485.1 L1403.3,474.4 L1406.2,469.6 L1411.0,469.6"/>
<path d="M1286.9,408.0 L1286.9,416.0 L1350.0,404.2 L1398.3,395.4 L1408.3,408.0 L1415.8,413.0"/>
<path d="M1415.8,413.0 L1410.8,428.0 L1411.0,440.0 L1426.4,453.6 L1418.1,463.7 L1411.0,469.6"/>
<path d="M1415.8,413.0 L1440.9,421.7"/>
<path d="M1427.1,285.0 L1427.1,297.8 L1430.9,318.0 L1436.2,330.3 L1441.8,358.0 L1442.3,381.6 L1448.5,410.3 L1446.0,416.0"/>
<path d="M1462.0,268.0 L1458.4,302.8 L1457.2,320.0 L1458.7,349.8 L1460.0,353.5"/>
<path d="M1442.3,358.0 L1491.6,346.7 L1499.8,339.5"/>
<path d="M1473.4,260.2 L1488.5,305.3 L1499.7,327.0 L1503.0,330.0"/>
<path d="M1442.3,382.1 L1494.7,370.3 L1496.7,377.5 L1498.0,382.0"/>
<path d="M1485.4,372.4 L1489.5,396.0"/>
<path d="M1309.4,492.6 L1310.6,510.2 L1325.7,495.1 L1338.2,488.9 L1340.7,496.4 L1354.5,503.9 L1350.7,487.6"/>
<path d="M1354.5,503.9 L1368.2,507.7 L1378.3,507.7 L1375.8,520.2 L1372.0,526.4"/>
<path d="M1340.7,496.4 L1323.2,520.2 L1319.4,535.2 L1310.6,533.9 L1300.6,567.8 L1278.1,582.8 L1263.1,587.8 L1253.0,579.0 L1234.3,560.2 L1234.3,550.2"/>
<path d="M1253.0,579.0 L1235.5,597.8 L1213.0,616.6"/>
<path d="M1057.7,635.4 L1094.0,633.4 L1094.0,627.4 L1213.0,616.6 L1265.6,610.3 L1350.0,596.6 L1418.3,582.8"/>
<path d="M1038.9,688.0 L1095.3,685.0 L1166.6,679.2 L1233.0,670.4"/>
<path d="M1265.6,610.3 L1266.8,617.8 L1253.0,627.9 L1240.5,635.4 L1225.5,647.9 L1209.2,657.9 L1201.7,665.4 L1201.7,673.4"/>
<path d="M1233.0,670.4 L1253.0,660.0 L1291.9,655.9 L1300.6,664.9 L1331.9,661.7 L1368.2,686.7"/>
<path d="M1233.0,670.4 L1230.5,677.9 L1248.0,693.0 L1273.1,713.0 L1290.4,730.1 L1303.0,747.6 L1312.0,750.0"/>
<path d="M1095.3,685.0 L1097.6,700.0 L1095.6,765.1 L1101.4,842.8"/>
<path d="M1166.6,679.2 L1192.8,765.1 L1191.5,785.2 L1197.8,812.7"/>
<path d="M1130.2,837.8 L1122.6,820.2 L1197.8,812.7"/>
<path d="M1197.8,812.7 L1202.8,821.5 L1284.2,817.0 L1287.9,822.7 L1287.9,807.7 L1300.5,807.7"/>
<path d="M1059.4,825.2 L1061.3,837.8 L1067.5,852.8"/>
<path d="M1403.9,473.2 L1413.9,515.9 L1431.1,511.1"/>
<path d="M1419.3,530.1 L1428.8,523.0"/>
<path d="M1300.5,810.2 L1303.0,840.3 L1306.7,857.8"/>
<path d="M443.0,423.0 L450.0,422.0 L449.0,430.0 L455.0,428.0 L456.0,434.0 L462.0,432.0 L463.0,440.0 L468.0,452.0 L462.0,458.0 L455.0,459.0 L450.0,452.0 L447.0,442.0 L443.0,440.0 L445.0,432.0Z"/>
<path d="M1026.4,240.7 L1032.7,225.1 L1045.2,215.1 L1055.2,203.8 L1070.2,207.6 L1082.8,210.1 L1096.5,208.9 L1105.3,222.6 L1112.8,232.6 L1134.9,232.6 L1133.6,242.8 L1142.6,251.8 L1141.3,264.6 L1150.3,267.2 L1147.7,273.6 L1149.0,280.6" stroke="#666" stroke-width="1"/>
<path d="M1159.2,285.1 L1187.4,286.4 L1219.5,285.1 L1240.0,287.1 L1253.0,302.8 L1273.1,320.3 L1265.6,325.3 L1260.6,334.1 L1252.0,326.0 L1243.0,330.3 L1238.0,322.8 L1233.0,315.3 L1221.4,314.0 L1231.0,312.1 L1236.2,327.4 L1228.5,345.4 L1225.9,358.2 L1231.0,373.6 L1224.6,386.4 L1215.5,392.9" stroke="#666" stroke-width="1"/>
<path d="M1182.3,295.4 L1200.3,292.8 L1207.0,296.0 L1213.1,289.6 L1219.5,287.7 L1222.1,295.4 L1216.9,305.0 L1200.3,299.2 L1182.3,297.3 L1182.3,295.4" stroke="#666" stroke-width="1"/>
<path d="M1214.2,405.5 L1218.0,415.5 L1210.5,418.0 L1205.5,423.0 L1215.5,428.0 L1233.0,415.5 L1253.0,400.4 L1275.6,399.2 L1289.0,393.0 L1300.6,382.9" stroke="#666" stroke-width="1"/>
<path d="M1300.6,370.4 L1285.6,372.9 L1279.3,362.9 L1290.6,350.4 L1325.7,337.8 L1340.7,329.1 L1338.0,333.0 L1346.0,331.0 L1352.0,327.0 L1343.0,336.0 L1363.2,325.3" stroke="#666" stroke-width="1"/>
<path d="M1033.9,243.9 L1043.0,237.0 L1052.7,231.4 L1045.0,239.0 L1036.0,245.0Z" fill="#e8b46b"/>
</g>
<path d="M268.0,146.0 L271.0,150.0 L271.0,160.0 L269.0,166.0 L267.5,160.0 L268.5,152.0Z" fill="#ebb56e" stroke="#4b4e55" stroke-width="1.2"/>
<path d="M259.0,134.5 L262.0,133.0 L265.0,132.5 L268.0,134.0 L270.0,136.5 L269.0,140.0 L270.0,142.5 L266.0,142.0 L263.0,143.5 L260.5,142.0 L259.5,138.0Z" fill="#5e5648" stroke="#4b4e55" stroke-width="1.2" stroke-linejoin="round"/>
<path d="M1074.2,854.2 L1079.4,857.4 L1078.3,865.7 L1072.1,874.0 L1066.9,878.1 L1063.8,874.0 L1067.9,866.7 L1071.0,859.4Z" fill="#4b4e55" stroke="#4b4e55" stroke-width="1.5" stroke-linejoin="round"/>
<path d="M1018.0,885.0 L1024.0,889.0 L1030.0,892.5 L1036.0,891.0 L1041.0,893.0 L1047.0,890.5 L1052.0,888.0 L1057.0,884.5 L1062.0,881.0 L1066.0,878.0" fill="none" stroke="#4b4e55" stroke-width="3" stroke-dasharray="3 1.5 5 2 2 1" stroke-linejoin="round"/>
<path d="M1089.7,856.3 L1090.5,861.0 L1088.7,866.7 L1085.0,872.0 L1080.4,877.1" fill="none" stroke="#4b4e55" stroke-width="1.2" stroke-dasharray="4 2"/>
<path d="M195.0,638.5 L198.0,637.5 L200.5,640.0 L197.0,641.5Z" fill="#e8904f" stroke="#4b4e55" stroke-width="1"/>
<path d="M203.0,640.5 L207.0,640.0 L210.0,643.0 L205.0,644.5Z" fill="#e8904f" stroke="#4b4e55" stroke-width="1"/>
<path d="M213.0,643.0 L217.0,642.5 L220.0,645.5 L215.0,646.0Z" fill="#e8904f" stroke="#4b4e55" stroke-width="1"/>
<path d="M211.5,669.5 L214.5,671.0 L213.0,673.0Z" fill="#e8904f" stroke="#4b4e55" stroke-width="1"/>
<path d="M239.0,669.5 L243.0,671.0 L246.0,677.5 L242.0,676.0Z" fill="#e8904f" stroke="#4b4e55" stroke-width="1"/>
<path d="M235.3,684.5 L237.5,686.0 L240.0,694.0 L237.0,692.0Z" fill="#e8904f" stroke="#4b4e55" stroke-width="1"/>
<path d="M1357.8,998.0 L1346.5,1005.6 L1332.5,1012.6 L1321.2,1016.9 L1314.2,1019.1" fill="none" stroke="#4b4e55" stroke-width="1.6" stroke-dasharray="5 3 2 3"/>
<path d="M1290,1019.5 l3,0.5" stroke="#4b4e55" stroke-width="1.4"/>
<path d="M1340.0,984.0 L1339.1,985.7 L1338.8,987.9 L1339.5,989.3" fill="none" stroke="#4b4e55" stroke-width="1.4"/>
<path d="M1345.0,988.0 L1346.3,989.2 L1346.4,991.3 L1346.6,992.7" fill="none" stroke="#4b4e55" stroke-width="1.4"/>
<path d="M1351.0,990.0 L1351.8,992.3 L1351.3,993.2 L1351.5,994.4" fill="none" stroke="#4b4e55" stroke-width="1.4"/>
<path d="M1357.0,987.0 L1356.4,989.7 L1355.9,990.0 L1354.4,992.1" fill="none" stroke="#4b4e55" stroke-width="1.4"/>
<path d="M1362.0,982.0 L1360.8,983.6 L1360.9,984.6 L1361.3,987.0" fill="none" stroke="#4b4e55" stroke-width="1.4"/>
<path d="M1336.0,979.0 L1334.4,980.3 L1334.0,983.3 L1333.4,984.3" fill="none" stroke="#4b4e55" stroke-width="1.4"/>
<path d="M1348.0,984.0 L1347.3,986.2 L1347.0,987.6 L1345.5,988.3" fill="none" stroke="#4b4e55" stroke-width="1.4"/>
<path d="M1377.8,534.8 L1390.0,541.0 L1403.9,546.7" fill="none" stroke="#4b4e55" stroke-width="1.6"/>
<path d="M1386.0,552.6 L1396.0,555.0 L1406.2,559.7" fill="none" stroke="#4b4e55" stroke-width="1.6"/>
<path d="M1381.3,563.3 L1395.0,565.0 L1407.4,570.4" fill="none" stroke="#4b4e55" stroke-width="1.6"/>
<path d="M1393.0,497.0 L1390.0,503.0" fill="none" stroke="#4b4e55" stroke-width="1.6"/>
<path d="M1402.0,500.0 L1405.0,507.0" fill="none" stroke="#4b4e55" stroke-width="1.6"/>
<path d="M1408.0,516.0 L1411.0,520.0" fill="none" stroke="#4b4e55" stroke-width="1.6"/>
<path d="M224.2,133.4 L229.7,138.2 L236.9,143.7 L245.5,147.6 L252.7,151.2 L258.2,150.4 L259.0,154.8 L261.3,157.1 L264.5,161.1 L266.3,165.0 L265.8,172.0 L264.3,180.0 L265.3,185.6 L267.7,183.2 L269.2,175.3 L271.6,167.4 L276.4,161.1 L274.8,151.6 L273.2,146.9 L276.4,142.1 L275.6,135.8 L272.4,131.8 L272.4,126.7 L336.0,143.5 L399.7,159.1 L422.2,164.1 L481.0,175.0 L540.0,184.6 L616.0,195.0 L692.8,203.9 L770.0,208.5 L848.0,211.4 L896.1,212.2 L896.1,198.9 L903.1,200.2 L906.9,217.7 L925.7,225.2 L940.0,223.9 L953.8,229.6 L962.5,232.6 L977.6,240.2 L997.6,236.4 L1015.1,238.9 L1026.4,240.7 L1002.6,260.2 L985.1,275.2 L970.0,287.7 L985.0,281.0 L993.0,284.0 L996.0,289.0 L999.0,276.0 L1003.0,274.0 L1004.0,284.0 L1012.6,289.0 L1035.2,277.7 L1046.0,271.0 L1052.8,265.9 L1059.2,258.2 L1069.5,255.6 L1073.3,256.9 L1065.6,262.1 L1059.2,271.0 L1054.7,280.0 L1063.1,273.6 L1072.1,276.2 L1081.0,285.1 L1091.3,286.4 L1097.7,287.7 L1109.2,280.0 L1123.3,276.2 L1136.8,272.3 L1138.1,280.0 L1146.4,282.6 L1152.8,279.4 L1157.9,278.1 L1159.2,283.8 L1157.9,289.0 L1164.4,294.1 L1175.3,294.1 L1174.6,297.3 L1165.6,296.7 L1155.4,296.7 L1147.0,297.3 L1137.4,295.8 L1131.7,296.7 L1128.5,297.9 L1119.5,301.8 L1109.2,305.6 L1104.1,313.3 L1099.0,322.3 L1093.8,332.6 L1088.7,345.4 L1084.9,358.2 L1082.3,371.0 L1081.0,392.0 L1080.2,400.4 L1084.0,425.5 L1090.3,445.5 L1096.5,453.0 L1105.3,451.8 L1115.3,443.0 L1121.6,420.5 L1120.3,400.4 L1112.8,385.4 L1110.5,369.7 L1115.0,346.7 L1122.0,336.4 L1128.5,331.3 L1129.7,341.5 L1133.6,340.3 L1134.2,327.4 L1138.7,319.7 L1143.8,318.5 L1140.0,313.3 L1141.3,308.2 L1146.4,305.0 L1155.4,308.2 L1163.1,312.0 L1173.3,315.9 L1181.0,319.7 L1184.9,326.2 L1186.8,336.4 L1186.2,350.5 L1182.3,359.5 L1175.9,365.9 L1175.3,373.6 L1180.4,376.2 L1187.4,365.9 L1193.8,359.5 L1201.5,358.8 L1206.7,365.9 L1211.8,381.3 L1215.5,392.9 L1214.2,405.5 L1205.5,415.5 L1201.7,425.5 L1195.5,440.5 L1209.2,448.0 L1223.0,444.3 L1240.5,439.3 L1253.0,428.0 L1268.1,423.0 L1285.6,410.5 L1300.6,387.9 L1304.4,382.9 L1299.4,375.4 L1300.6,370.4 L1303.1,367.9 L1333.2,362.9 L1348.2,359.1 L1360.7,350.4 L1364.5,342.8 L1358.2,330.3 L1367.0,315.3 L1378.3,297.8 L1388.3,290.2 L1425.8,282.7 L1465.9,267.7 L1473.4,260.2 L1478.4,250.2 L1484.7,225.1 L1486.0,200.1 L1496.0,176.3 L1501.0,181.3 L1516.0,173.8 L1531.0,177.5 L1541.0,207.6 L1546.1,222.6 L1553.6,226.4 L1558.6,237.7 L1566.1,238.9 L1573.1,246.4 L1563.6,260.2 L1551.1,270.2 L1541.0,280.2 L1533.5,275.2 L1528.5,290.2 L1516.0,302.8 L1506.0,312.8 L1503.9,320.0 L1501.9,330.3 L1500.8,340.5 L1508.0,344.6 L1501.9,350.8 L1500.8,358.0 L1508.0,360.0 L1513.2,366.2 L1517.3,371.3 L1522.4,372.4 L1528.6,369.3 L1531.6,365.2 L1527.5,361.1 L1522.4,361.1 L1527.5,362.6 L1532.7,368.3 L1533.2,374.4 L1530.6,372.4 L1522.4,377.5 L1516.2,380.6 L1514.2,376.5 L1511.1,381.6 L1506.0,384.7 L1501.9,387.8 L1496.7,390.8 L1489.5,396.0 L1483.4,399.1 L1475.2,401.1 L1463.9,405.2 L1455.7,411.4 L1446.4,418.6 L1440.3,427.8 L1435.9,437.5 L1443.4,447.5 L1445.3,461.3 L1441.8,474.4 L1435.9,485.0 L1432.3,494.5 L1429.9,495.7 L1429.3,489.8 L1424.0,487.4 L1416.9,487.4 L1412.2,482.7 L1409.8,475.6 L1410.5,470.0 L1411.5,477.0 L1413.0,483.5 L1415.7,489.8 L1420.5,496.9 L1427.6,501.6 L1429.9,504.0 L1431.1,513.5 L1429.9,523.0 L1426.4,532.5 L1422.8,544.3 L1420.5,556.2 L1416.9,563.3 L1415.7,558.5 L1415.7,546.7 L1419.3,534.8 L1414.5,532.5 L1411.0,525.3 L1405.0,520.6 L1400.3,513.5 L1399.1,504.0 L1396.7,493.3 L1397.9,483.9 L1401.5,479.1 L1396.7,481.5 L1390.8,489.8 L1389.6,499.3 L1392.0,511.1 L1396.7,520.6 L1401.5,530.1 L1396.0,532.5 L1388.0,529.5 L1381.3,527.5 L1376.0,524.0 L1377.0,528.5 L1381.3,531.3 L1390.8,534.5 L1399.1,537.0 L1403.9,540.0 L1405.0,541.9 L1406.2,553.8 L1409.8,568.0 L1416.9,569.8 L1425.8,585.3 L1433.4,597.8 L1440.9,610.3 L1442.1,625.4 L1428.4,632.9 L1420.8,650.4 L1408.3,652.9 L1393.3,662.9 L1385.8,680.5 L1373.3,686.7 L1360.7,695.5 L1353.2,710.5 L1338.2,728.0 L1330.7,737.0 L1318.0,750.1 L1309.2,767.6 L1304.2,790.2 L1304.2,810.2 L1310.5,830.2 L1320.5,850.3 L1330.5,865.3 L1338.0,880.3 L1348.0,900.4 L1360.6,922.9 L1368.1,947.9 L1370.2,969.0 L1366.2,980.3 L1358.0,991.0 L1350.0,994.0 L1343.6,993.0 L1339.0,984.0 L1330.0,975.0 L1321.0,972.0 L1315.0,958.6 L1306.0,955.6 L1300.0,945.0 L1294.0,937.6 L1285.0,910.5 L1276.0,901.5 L1278.3,889.5 L1277.5,879.0 L1273.8,868.5 L1264.0,868.5 L1252.0,855.0 L1242.9,847.8 L1230.3,840.3 L1220.3,845.3 L1202.8,857.8 L1192.8,855.3 L1182.8,845.3 L1170.2,840.3 L1152.7,837.8 L1127.7,840.3 L1119.8,844.9 L1115.7,833.5 L1110.5,833.5 L1110.5,843.9 L1100.1,844.9 L1084.5,843.9 L1073.1,847.0 L1065.9,854.2 L1059.6,859.4 L1063.8,861.5 L1069.0,854.2 L1073.1,851.1 L1078.3,853.2 L1074.2,861.5 L1070.0,869.8 L1069.0,877.1 L1074.2,880.2 L1082.5,881.2 L1086.6,886.4 L1080.4,890.6 L1076.2,894.7 L1074.2,887.5 L1065.9,883.3 L1059.6,884.3 L1051.3,891.6 L1043.0,893.7 L1037.8,892.7 L1027.5,893.7 L1018.1,887.5 L1018.1,882.3 L1011.9,878.1 L1008.8,870.9 L1004.0,872.0 L1000.0,869.0 L995.0,869.5 L991.1,872.9 L996.0,876.0 L1003.0,878.5 L998.0,881.0 L990.1,879.2 L975.6,879.2 L960.0,872.9 L940.7,872.1 L929.7,876.5 L917.5,881.5 L913.0,873.5 L909.0,876.5 L912.5,885.5 L907.7,891.9 L894.5,901.8 L881.3,910.5 L865.9,917.1 L852.7,928.1 L844.0,939.1 L836.3,953.4 L833.0,968.8 L834.1,982.0 L838.5,993.0 L840.7,1001.8 L835.2,1005.1 L819.8,1000.7 L806.6,998.5 L793.4,993.0 L780.2,984.2 L773.6,968.8 L769.2,953.4 L762.6,940.2 L751.6,927.0 L742.9,911.6 L736.3,894.1 L723.1,878.7 L712.1,867.7 L692.3,864.4 L679.1,869.9 L670.3,885.3 L659.3,891.9 L644.0,883.1 L635.6,875.3 L626.4,865.5 L617.6,847.9 L613.2,832.5 L600.5,820.2 L588.0,807.7 L575.5,790.2 L569.2,780.6 L521.6,782.6 L521.1,796.4 L497.8,793.2 L420.2,773.9 L337.6,725.0 L348.8,718.8 L349.1,719.3 L272.7,711.3 L272.7,693.0 L265.2,672.9 L250.2,662.9 L240.2,650.4 L225.1,637.9 L205.1,625.4 L192.6,617.8 L197.6,605.3 L192.6,590.3 L182.6,570.3 L175.1,545.2 L181.3,532.7 L170.0,515.2 L175.1,495.1 L165.0,482.6 L160.0,470.1 L152.5,450.0 L157.5,420.0 L155.0,410.5 L150.0,400.5 L155.0,390.5 L163.8,380.5 L167.5,360.4 L170.0,345.4 L171.3,317.9 L180.0,302.8 L192.6,285.3 L202.6,260.3 L211.4,240.2 L215.1,217.7 L217.9,214.8 L228.2,210.8 L219.5,209.3 L217.1,206.9 L219.5,202.9 L221.8,194.3 L222.6,187.9 L230.5,185.6 L221.8,183.2 L223.4,180.0 L222.6,167.4 L223.4,155.5 L220.3,147.6 L220.3,140.5ZM1441.3,427.8 L1450.5,421.6 L1460.8,416.5 L1473.1,412.4 L1478.3,406.2 L1483.4,405.2 L1490.6,405.7 L1483.4,411.4 L1476.2,417.5 L1465.9,424.7 L1452.6,430.9 L1443.3,435.0ZM1515.2,385.7 L1522.4,384.2 L1520.3,387.8ZM1527.5,386.2 L1533.7,387.8 L1535.7,384.7 L1532.0,385.5Z" fill="none" stroke="#4b4e55" stroke-width="1.3" stroke-linejoin="round"/>
<g clip-path="url(#ak)">
<rect x="0" y="830" width="800" height="436" fill="#ebb56e"/>
<path d="M509.1,860.0C509.1,862.1 507.6,865.2 509.1,872.8C510.6,880.4 515.2,894.5 517.9,905.4C520.6,916.2 522.5,927.3 525.4,937.9C528.3,948.5 531.1,959.6 535.3,969.0C539.4,978.4 545.3,986.7 550.3,994.0C555.3,1001.3 560.2,1007.6 565.2,1012.6C570.2,1017.6 575.3,1020.4 580.3,1023.8C585.3,1027.2 592.5,1031.5 595.0,1033.0L640,1033 L640,840 L509,840Z" fill="#fff"/>
<path d="M499.1,858.0C499.1,860.5 498.9,865.8 499.1,872.8C499.3,879.8 501.0,890.7 500.4,900.3C499.8,909.9 498.4,920.4 495.3,930.4C492.2,940.4 486.1,952.4 481.5,960.2C476.9,968.1 471.1,973.7 467.6,977.5C464.1,981.3 464.5,980.5 460.3,983.0C456.1,985.5 447.6,990.5 442.6,992.6C437.6,994.7 436.5,993.9 430.2,995.5C423.9,997.1 413.4,1000.2 405.0,1002.0C396.6,1003.8 387.5,1004.8 380.0,1006.0C372.5,1007.2 363.3,1008.5 360.0,1009.0L290,1012 L290,830 L499,830Z" fill="#e8904f"/>
<path d="M481.6,856.0C481.6,858.0 480.6,862.1 481.6,867.8C482.6,873.5 487.6,882.8 487.8,890.3C488.0,897.8 485.7,905.8 482.8,912.9C479.9,920.0 475.7,927.1 470.3,932.9C464.9,938.7 457.8,944.1 450.3,947.9C442.8,951.6 433.6,953.7 425.2,955.4C416.8,957.1 407.7,957.9 400.2,957.9C392.7,957.9 384.7,957.1 380.1,955.4C375.5,953.7 376.8,950.5 372.6,947.9C368.4,945.3 357.9,941.3 355.0,940.0L330,935 L320,830 L481,830Z" fill="#df5c36"/>
<path d="M509.1,860.0C509.1,862.1 507.6,865.2 509.1,872.8C510.6,880.4 515.2,894.5 517.9,905.4C520.6,916.2 522.5,927.3 525.4,937.9C528.3,948.5 531.1,959.6 535.3,969.0C539.4,978.4 545.3,986.7 550.3,994.0C555.3,1001.3 560.2,1007.6 565.2,1012.6C570.2,1017.6 575.3,1020.4 580.3,1023.8C585.3,1027.2 592.5,1031.5 595.0,1033.0" fill="none" stroke="#7b7f87" stroke-width="1.2"/>
<path d="M499.1,858.0C499.1,860.5 498.9,865.8 499.1,872.8C499.3,879.8 501.0,890.7 500.4,900.3C499.8,909.9 498.4,920.4 495.3,930.4C492.2,940.4 486.1,952.4 481.5,960.2C476.9,968.1 471.1,973.7 467.6,977.5C464.1,981.3 464.5,980.5 460.3,983.0C456.1,985.5 447.6,990.5 442.6,992.6C437.6,994.7 436.5,993.9 430.2,995.5C423.9,997.1 413.4,1000.2 405.0,1002.0C396.6,1003.8 387.5,1004.8 380.0,1006.0C372.5,1007.2 363.3,1008.5 360.0,1009.0" fill="none" stroke="#7b7f87" stroke-width="1.2"/>
<path d="M481.6,856.0C481.6,858.0 480.6,862.1 481.6,867.8C482.6,873.5 487.6,882.8 487.8,890.3C488.0,897.8 485.7,905.8 482.8,912.9C479.9,920.0 475.7,927.1 470.3,932.9C464.9,938.7 457.8,944.1 450.3,947.9C442.8,951.6 433.6,953.7 425.2,955.4C416.8,957.1 407.7,957.9 400.2,957.9C392.7,957.9 384.7,957.1 380.1,955.4C375.5,953.7 376.8,950.5 372.6,947.9C368.4,945.3 357.9,941.3 355.0,940.0" fill="none" stroke="#7b7f87" stroke-width="1.2"/>
</g>
<g clip-path="url(#ak)" fill="none" stroke="#4b4e55" stroke-linejoin="round">
<path d="M670.0,1128.0 L671.5,1128.3 L673.0,1130.4 L673.2,1132.8" stroke-width="1.2"/>
<path d="M742.3,1184.9 L739.5,1181.9 L738.2,1180.3 L737.3,1179.4" stroke-width="1.2"/>
<path d="M654.1,1110.7 L653.5,1108.4 L652.0,1107.8 L652.3,1105.3" stroke-width="1.5"/>
<path d="M694.4,1157.4 L696.0,1154.8 L696.6,1152.3 L697.2,1151.4" stroke-width="1.6"/>
<path d="M702.1,1137.3 L704.5,1139.7 L704.5,1140.9 L706.8,1142.7" stroke-width="1.2"/>
<path d="M670.1,1111.5 L666.7,1111.4 L665.4,1113.0 L663.2,1114.3" stroke-width="1.3"/>
<path d="M688.9,1151.4 L690.8,1149.8 L690.5,1149.0 L692.7,1149.1" stroke-width="1.6"/>
<path d="M736.8,1187.9 L738.2,1187.0 L739.2,1184.7 L740.6,1181.7" stroke-width="1.6"/>
<path d="M661.7,1110.7 L662.0,1112.5 L665.5,1113.5 L665.9,1114.3" stroke-width="1.6"/>
<path d="M710.2,1166.3 L709.6,1164.5 L707.6,1164.1 L706.1,1164.0" stroke-width="1.2"/>
<path d="M704.5,1164.6 L702.3,1166.6 L700.2,1169.5 L698.2,1170.3" stroke-width="1.5"/>
<path d="M742.9,1183.9 L743.8,1182.1 L745.7,1181.0 L746.4,1179.9" stroke-width="1.1"/>
<path d="M730.8,1183.6 L731.8,1181.5 L734.6,1180.4 L734.6,1177.5" stroke-width="1.1"/>
<path d="M688.6,1138.7 L686.8,1136.5 L684.8,1137.2 L683.6,1136.1" stroke-width="1.4"/>
<path d="M732.2,1187.0 L734.4,1188.4 L735.5,1189.1 L736.5,1188.5" stroke-width="1.3"/>
<path d="M701.5,1138.6 L702.0,1135.5 L702.6,1134.2 L704.8,1133.0" stroke-width="1.4"/>
<path d="M663.1,1112.0 L662.8,1113.9 L665.9,1115.8 L665.6,1115.9" stroke-width="1.2"/>
<path d="M661.1,1131.2 L662.9,1129.2 L662.6,1126.8 L664.6,1124.7" stroke-width="1.7"/>
<path d="M688.7,1136.5 L685.7,1139.0 L684.8,1138.6 L681.9,1141.0" stroke-width="1.7"/>
<path d="M682.5,1137.6 L681.0,1139.7 L681.0,1144.1 L678.5,1145.5" stroke-width="1.4"/>
<path d="M673.8,1121.8 L673.4,1121.5 L674.3,1119.8 L675.9,1118.4" stroke-width="1.3"/>
<path d="M708.8,1165.0 L707.3,1164.5 L703.6,1162.3 L702.4,1160.9" stroke-width="1.4"/>
<path d="M737.9,1169.3 L738.4,1170.3 L741.5,1174.8 L742.8,1175.8" stroke-width="1.3"/>
<path d="M665.8,1112.0 L667.1,1109.9 L668.0,1108.9 L667.9,1106.0" stroke-width="1.2"/>
<path d="M648.1,1107.1 L649.5,1107.0 L651.8,1108.6 L653.8,1110.2" stroke-width="1.1"/>
<path d="M747.8,1182.6 L748.0,1184.3 L745.4,1186.0 L745.2,1186.1" stroke-width="1.3"/>
<path d="M696.0,1131.8 L696.2,1129.7 L697.1,1129.5 L698.0,1126.7" stroke-width="1.1"/>
<path d="M728.2,1174.6 L726.6,1175.1 L726.0,1177.4 L723.8,1177.8" stroke-width="1.3"/>
<path d="M686.1,1149.2 L687.3,1149.7 L688.1,1151.7 L689.9,1152.0" stroke-width="1.7"/>
<path d="M655.7,1106.0 L654.7,1103.5 L653.3,1099.8 L653.1,1097.9" stroke-width="1.4"/>
<path d="M675.0,1123.0 L677.2,1123.4 L678.9,1124.1 L682.6,1125.5" stroke-width="1.7"/>
<path d="M662.3,1112.7 L662.4,1111.1 L665.0,1110.6 L665.3,1108.4" stroke-width="1.7"/>
<path d="M749.5,1182.4 L751.4,1184.1 L754.3,1185.5 L754.9,1186.2" stroke-width="1.5"/>
<path d="M664.2,1107.5 L665.6,1110.7 L666.0,1112.0 L668.6,1113.9" stroke-width="1.6"/>
<path d="M738.4,1188.4 L739.3,1187.1 L739.5,1185.2 L740.6,1182.6" stroke-width="1.2"/>
<path d="M693.9,1151.0 L694.5,1150.3 L697.4,1148.0 L697.5,1147.2" stroke-width="1.2"/>
<path d="M664.5,1134.4 L661.5,1132.3 L659.2,1131.3 L658.4,1128.1" stroke-width="1.2"/>
<path d="M694.8,1141.7 L695.2,1142.3 L698.3,1142.8 L699.2,1143.5" stroke-width="1.2"/>
<path d="M686.9,1149.8 L684.3,1151.3 L682.5,1153.2 L680.8,1154.0" stroke-width="1.1"/>
<path d="M666.2,1110.0 L667.4,1110.3 L669.4,1112.5 L669.8,1113.1" stroke-width="1.7"/>
<path d="M735.9,1173.1 L739.5,1174.2 L741.9,1175.7 L743.4,1177.3" stroke-width="1.2"/>
<path d="M730.9,1184.2 L730.8,1186.6 L731.9,1186.9 L734.3,1187.3" stroke-width="1.6"/>
<path d="M735.4,1170.8 L733.7,1168.7 L730.8,1168.7 L730.0,1168.0" stroke-width="1.4"/>
<path d="M679.6,1128.1 L683.1,1129.4 L683.4,1130.1 L686.6,1132.5" stroke-width="1.1"/>
<path d="M732.6,1169.3 L730.2,1168.7 L730.3,1167.9 L728.5,1165.7" stroke-width="1.4"/>
<path d="M693.7,1143.9 L693.8,1144.7 L696.9,1143.9 L697.6,1145.6" stroke-width="1.6"/>
<path d="M703.1,1150.5 L702.1,1148.1 L699.8,1148.7 L700.1,1145.9" stroke-width="1.3"/>
<path d="M690.5,1149.6 L688.5,1150.5 L686.7,1153.5 L685.0,1155.5" stroke-width="1.0"/>
<path d="M725.5,1166.4 L726.0,1166.6 L729.3,1169.6 L730.7,1170.4" stroke-width="1.1"/>
<path d="M666.8,1118.3 L665.2,1115.5 L665.2,1113.4 L664.4,1111.7" stroke-width="1.0"/>
<path d="M658.2,1101.1 L661.0,1097.9 L663.4,1098.3 L664.5,1095.1" stroke-width="1.3"/>
<path d="M699.6,1157.0 L696.5,1159.5 L694.7,1159.1 L692.0,1160.7" stroke-width="1.5"/>
<path d="M707.5,1154.4 L706.2,1152.5 L704.1,1151.3 L704.2,1149.8" stroke-width="1.4"/>
<path d="M699.8,1140.6 L700.7,1142.5 L702.9,1141.3 L705.4,1142.9" stroke-width="1.1"/>
<path d="M653.4,1105.1 L650.2,1106.6 L650.5,1107.9 L647.1,1108.5" stroke-width="1.3"/>
<path d="M748.9,1183.9 L746.9,1186.1 L747.0,1184.9 L744.5,1186.9" stroke-width="1.4"/>
<path d="M659.4,1125.2 L658.6,1123.1 L656.6,1119.5 L657.2,1118.6" stroke-width="1.7"/>
<path d="M707.4,1143.9 L709.4,1143.3 L709.5,1145.5 L711.9,1145.7" stroke-width="1.0"/>
<path d="M701.1,1154.4 L702.1,1155.2 L705.9,1159.2 L707.0,1160.4" stroke-width="1.4"/>
<path d="M661.0,1117.8 L660.8,1120.1 L658.8,1121.0 L657.3,1122.7" stroke-width="1.2"/>
<path d="M727.0,1167.6 L728.8,1169.0 L729.7,1168.1 L730.8,1169.1" stroke-width="1.3"/>
<path d="M720.8,1171.5 L721.9,1173.2 L724.7,1176.3 L725.8,1178.8" stroke-width="1.1"/>
<path d="M679.4,1126.5 L680.7,1127.0 L683.2,1127.1 L685.0,1128.6" stroke-width="1.7"/>
<path d="M690.9,1142.7 L689.7,1145.2 L688.0,1144.9 L687.6,1147.2" stroke-width="1.2"/>
<path d="M721.8,1173.4 L722.5,1175.3 L724.0,1176.1 L726.0,1175.6" stroke-width="1.7"/>
<path d="M654.1,1116.0 L652.6,1113.6 L652.2,1113.5 L649.8,1112.6" stroke-width="1.2"/>
<path d="M638.7,1111.3 L638.3,1109.5 L636.4,1107.9 L634.7,1104.7" stroke-width="1.4"/>
<path d="M721.5,1178.8 L720.6,1177.6 L719.8,1176.1 L719.3,1174.1" stroke-width="1.7"/>
<path d="M702.0,1160.0 L699.7,1159.0 L698.6,1157.6 L697.4,1155.4" stroke-width="1.1"/>
<path d="M642.9,1113.1 L641.7,1113.5 L639.6,1115.7 L638.8,1117.4" stroke-width="1.7"/>
<path d="M754.5,1189.4 L757.1,1190.7 L759.2,1193.0 L762.6,1192.9" stroke-width="1.2"/>
<path d="M713.9,1170.8 L711.3,1170.3 L708.8,1167.6 L707.1,1166.5" stroke-width="1.2"/>
<path d="M672.8,1134.8 L670.9,1133.8 L672.4,1131.8 L670.6,1129.1" stroke-width="1.1"/>
<path d="M653.4,1108.8 L656.1,1110.3 L659.5,1109.8 L660.7,1111.9" stroke-width="1.6"/>
<path d="M702.9,1151.5 L704.2,1149.4 L704.5,1147.7 L706.3,1147.2" stroke-width="1.3"/>
<path d="M696.8,1141.2 L695.7,1142.8 L692.6,1146.2 L690.8,1147.0" stroke-width="1.1"/>
<path d="M713.7,1151.4 L714.7,1150.4 L716.7,1148.2 L716.6,1148.4" stroke-width="1.5"/>
<path d="M693.9,1139.7 L691.5,1142.4 L690.0,1143.5 L688.4,1145.4" stroke-width="1.2"/>
<path d="M715.9,1167.9 L716.5,1166.5 L717.5,1164.9 L718.7,1163.1" stroke-width="1.3"/>
<path d="M697.1,1141.6 L697.1,1140.2 L698.5,1138.7 L699.3,1136.2" stroke-width="1.1"/>
<path d="M730.5,1180.9 L729.3,1181.3 L725.1,1182.0 L724.1,1184.5" stroke-width="1.4"/>
<path d="M696.7,1139.3 L697.6,1137.4 L701.2,1137.1 L703.0,1134.2" stroke-width="1.7"/>
<path d="M730.4,1159.6 L729.4,1158.3 L728.6,1153.8 L726.1,1152.6" stroke-width="1.0"/>
<path d="M715.4,1169.0 L714.6,1172.4 L712.8,1172.9 L712.4,1175.3" stroke-width="1.3"/>
<path d="M729.1,1167.0 L727.2,1164.9 L726.2,1165.8 L724.6,1164.0" stroke-width="1.1"/>
<path d="M727.5,1182.8 L726.5,1182.7 L724.7,1185.3 L723.8,1186.4" stroke-width="1.4"/>
<path d="M684.6,1139.2 L685.3,1139.3 L688.2,1140.6 L689.2,1141.9" stroke-width="1.4"/>
<path d="M685.1,1138.8 L684.5,1137.1 L682.6,1136.8 L681.0,1136.4" stroke-width="1.4"/>
<path d="M695.3,1144.1 L696.2,1143.9 L697.5,1145.3 L699.7,1147.1" stroke-width="1.1"/>
<path d="M751.6,1180.5 L750.4,1181.0 L749.0,1184.0 L749.4,1184.2" stroke-width="1.4"/>
<path d="M750.9,1183.8 L748.6,1182.0 L749.3,1183.1 L747.5,1181.1" stroke-width="1.5"/>
<path d="M656.6,1109.3 L656.8,1109.1 L657.8,1107.4 L660.0,1106.0" stroke-width="1.3"/>
<path d="M727.4,1166.5 L725.7,1168.5 L723.9,1171.4 L723.6,1174.4" stroke-width="1.2"/>
<path d="M691.7,1135.1 L691.9,1132.7 L691.2,1133.4 L689.9,1130.7" stroke-width="1.3"/>
<path d="M667.9,1109.3 L666.1,1111.1 L665.9,1112.3 L665.2,1113.7" stroke-width="1.4"/>
<path d="M737.1,1178.3 L739.7,1178.5 L740.7,1181.0 L744.1,1181.4" stroke-width="1.3"/>
<path d="M738.7,1175.6 L736.5,1177.3 L736.9,1177.4 L734.0,1180.1" stroke-width="1.5"/>
<path d="M737.3,1180.7 L740.6,1179.2 L741.6,1177.8 L743.8,1176.2" stroke-width="1.4"/>
<path d="M648.5,1110.5 L650.2,1108.3 L650.0,1104.7 L650.9,1102.8" stroke-width="1.3"/>
<path d="M657.8,1112.9 L659.4,1113.8 L660.0,1116.5 L662.1,1117.6" stroke-width="1.3"/>
<path d="M680.3,1126.5 L679.0,1129.1 L674.9,1130.0 L674.0,1131.7" stroke-width="1.7"/>
<path d="M687.5,1151.1 L688.0,1149.4 L689.7,1149.4 L691.2,1146.6" stroke-width="1.3"/>
<path d="M712.6,1169.5 L712.6,1167.7 L714.0,1165.9 L714.1,1165.5" stroke-width="1.4"/>
<path d="M668.7,1133.4 L667.2,1131.4 L665.9,1131.2 L663.6,1129.2" stroke-width="1.2"/>
<path d="M663.0,1125.0 L660.4,1126.3 L659.4,1128.6 L658.8,1130.3" stroke-width="1.7"/>
<path d="M675.5,1118.5 L677.3,1117.1 L678.9,1116.5 L679.9,1115.5" stroke-width="1.6"/>
<path d="M653.1,1105.5 L651.5,1103.7 L651.5,1101.7 L650.2,1099.0" stroke-width="1.3"/>
<path d="M679.0,1121.4 L677.6,1119.0 L676.9,1118.4 L675.7,1115.6" stroke-width="1.3"/>
<path d="M665.6,1118.5 L662.8,1116.8 L660.5,1115.2 L658.6,1113.1" stroke-width="1.3"/>
<path d="M688.5,1133.2 L688.6,1133.7 L690.5,1135.0 L691.9,1135.6" stroke-width="1.4"/>
<path d="M743.3,1186.2 L743.7,1184.0 L747.1,1183.6 L747.1,1181.0" stroke-width="1.4"/>
<path d="M720.2,1171.0 L722.7,1171.8 L724.3,1174.7 L727.6,1176.0" stroke-width="1.4"/>
<path d="M696.7,1142.6 L695.9,1140.3 L694.6,1139.8 L693.5,1138.4" stroke-width="1.0"/>
<path d="M695.8,1133.6 L697.9,1134.6 L698.0,1135.8 L700.3,1137.8" stroke-width="1.1"/>
<path d="M678.6,1131.7 L676.7,1129.1 L676.5,1127.1 L676.6,1126.1" stroke-width="1.4"/>
<path d="M744.2,1187.8 L744.2,1186.8 L742.9,1185.1 L741.1,1184.8" stroke-width="1.1"/>
<path d="M659.3,1114.1 L659.5,1114.7 L662.7,1115.5 L663.1,1117.7" stroke-width="1.3"/>
<path d="M738.0,1169.3 L738.6,1170.4 L739.5,1172.6 L741.4,1172.8" stroke-width="1.5"/>
<path d="M750.9,1189.8 L751.2,1192.4 L753.9,1192.6 L754.7,1195.6" stroke-width="1.6"/>
<path d="M725.8,1165.1 L727.8,1164.9 L727.5,1167.2 L729.6,1166.7" stroke-width="1.0"/>
<path d="M712.6,1150.6 L711.8,1151.5 L709.5,1154.7 L707.1,1156.9" stroke-width="1.7"/>
<path d="M647.9,1114.9 L649.3,1116.3 L650.2,1117.1 L652.7,1117.2" stroke-width="1.4"/>
<path d="M696.7,1139.2 L695.1,1141.3 L691.7,1141.9 L688.8,1142.5" stroke-width="1.7"/>
<path d="M697.4,1157.0 L699.5,1157.8 L702.9,1161.1 L703.9,1162.0" stroke-width="1.4"/>
<path d="M657.3,1101.4 L654.6,1101.5 L651.9,1102.3 L649.9,1104.2" stroke-width="1.5"/>
<path d="M671.3,1122.2 L671.6,1119.9 L669.4,1119.5 L668.7,1117.9" stroke-width="1.2"/>
<path d="M725.1,1158.1 L726.3,1159.1 L728.8,1162.6 L730.1,1163.5" stroke-width="1.6"/>
<path d="M681.0,1142.4 L680.8,1142.0 L678.6,1139.3 L677.4,1137.8" stroke-width="1.1"/>
<path d="M740.3,1167.4 L737.7,1167.5 L738.5,1169.3 L735.8,1171.5" stroke-width="1.5"/>
<path d="M702.2,1138.8 L704.3,1136.1 L705.3,1135.9 L706.2,1134.1" stroke-width="1.2"/>
<path d="M694.6,1152.6 L693.6,1150.7 L691.9,1150.7 L690.1,1149.5" stroke-width="1.7"/>
<path d="M717.8,1159.2 L719.7,1158.3 L720.6,1155.5 L720.8,1155.0" stroke-width="1.4"/>
<path d="M692.1,1156.7 L691.2,1157.1 L688.2,1159.5 L687.3,1161.3" stroke-width="1.0"/>
<path d="M701.7,1157.1 L700.4,1156.4 L696.0,1153.3 L695.0,1152.7" stroke-width="1.6"/>
<path d="M645.3,1118.9 L645.1,1120.0 L643.7,1123.1 L643.0,1123.4" stroke-width="1.2"/>
<path d="M676.9,1135.2 L677.4,1136.0 L679.0,1137.3 L680.1,1139.3" stroke-width="1.4"/>
<path d="M704.4,1165.7 L702.9,1166.7 L700.7,1168.1 L697.7,1170.7" stroke-width="1.1"/>
<path d="M721.9,1155.2 L718.5,1155.6 L717.8,1158.0 L714.3,1158.7" stroke-width="1.3"/>
<path d="M645.0,1104.2 L643.6,1103.1 L642.0,1099.4 L639.2,1097.8" stroke-width="1.1"/>
<path d="M706.2,1160.2 L706.1,1158.6 L708.1,1158.2 L708.1,1156.7" stroke-width="1.3"/>
<path d="M676.8,1136.4 L674.7,1138.8 L675.4,1140.2 L673.8,1142.7" stroke-width="1.1"/>
<path d="M655.1,1099.1 L657.1,1101.4 L658.0,1103.7 L660.1,1105.1" stroke-width="1.2"/>
<path d="M722.8,1164.9 L720.0,1165.9 L717.3,1166.1 L715.4,1167.7" stroke-width="1.4"/>
<path d="M755.4,1183.3 L755.3,1184.9 L751.9,1186.4 L751.5,1189.2" stroke-width="1.5"/>
<path d="M696.9,1151.4 L698.8,1149.0 L700.7,1150.2 L701.4,1147.9" stroke-width="1.5"/>
<path d="M665.5,1121.6 L667.1,1123.6 L669.5,1124.5 L670.5,1124.2" stroke-width="1.1"/>
<path d="M666.5,1117.9 L664.2,1120.7 L664.2,1121.9 L663.3,1124.2" stroke-width="1.1"/>
<path d="M672.9,1137.3 L672.6,1137.2 L669.0,1133.9 L668.9,1133.2" stroke-width="1.6"/>
<path d="M679.1,1136.6 L680.0,1133.3 L681.5,1130.6 L683.6,1129.3" stroke-width="1.0"/>
<path d="M703.0,1157.2 L700.4,1154.3 L699.1,1154.3 L696.2,1151.3" stroke-width="1.6"/>
<path d="M685.5,1143.2 L684.7,1142.2 L682.5,1139.5 L681.0,1137.3" stroke-width="1.7"/>
<path d="M700.2,1149.0 L697.7,1151.4 L697.4,1151.8 L694.6,1153.8" stroke-width="1.4"/>
<path d="M656.6,1122.8 L657.1,1120.1 L659.5,1118.0 L659.5,1116.0" stroke-width="1.3"/>
<path d="M671.4,1131.3 L673.0,1129.9 L673.6,1128.5 L674.6,1128.1" stroke-width="1.3"/>
<path d="M677.5,1124.4 L678.0,1125.0 L675.6,1126.7 L675.6,1128.0" stroke-width="1.4"/>
<path d="M688.6,1148.4 L686.5,1149.1 L687.7,1150.3 L685.9,1152.9" stroke-width="1.3"/>
<path d="M684.0,1128.0 L682.7,1125.5 L681.7,1122.6 L678.6,1121.1" stroke-width="1.0"/>
<path d="M671.9,1119.0 L672.0,1116.3 L674.9,1116.0 L675.4,1114.2" stroke-width="1.0"/>
<path d="M719.1,1159.4 L718.6,1158.6 L715.6,1155.5 L715.2,1154.2" stroke-width="1.4"/>
<path d="M669.5,1111.8 L668.8,1109.9 L666.5,1108.7 L665.9,1107.6" stroke-width="1.3"/>
<path d="M652.1,1106.0 L649.3,1108.4 L648.2,1107.5 L646.0,1109.9" stroke-width="1.2"/>
<path d="M718.2,1155.5 L719.4,1156.9 L719.7,1157.3 L721.7,1159.8" stroke-width="1.0"/>
<path d="M728.5,1176.7 L729.4,1179.4 L733.4,1180.3 L734.0,1182.5" stroke-width="1.0"/>
<path d="M748.6,1189.6 L748.2,1188.1 L745.0,1184.0 L744.4,1182.0" stroke-width="1.2"/>
<path d="M707.2,1164.2 L704.6,1165.3 L705.6,1165.4 L702.9,1166.7" stroke-width="1.7"/>
<path d="M676.6,1131.7 L678.6,1130.4 L679.9,1128.4 L680.6,1128.3" stroke-width="1.1"/>
<path d="M756.5,1180.3 L758.1,1179.1 L760.0,1176.9 L761.4,1174.4" stroke-width="1.2"/>
<path d="M684.0,1138.9 L686.3,1136.8 L686.6,1135.9 L688.5,1135.9" stroke-width="1.2"/>
<path d="M658.3,1117.7 L660.1,1118.2 L662.8,1118.7 L666.5,1120.4" stroke-width="1.2"/>
<path d="M694.5,1136.7 L697.6,1136.0 L697.9,1134.4 L701.2,1132.4" stroke-width="1.2"/>
<path d="M718.1,1163.0 L718.8,1165.1 L720.6,1166.5 L720.8,1166.8" stroke-width="1.2"/>
<path d="M719.6,1159.3 L718.7,1156.4 L718.6,1156.5 L717.5,1153.7" stroke-width="1.2"/>
<path d="M687.1,1148.1 L687.6,1145.2 L688.6,1145.0 L690.3,1142.7" stroke-width="1.3"/>
<path d="M716.6,1169.6 L714.8,1169.4 L713.1,1170.6 L712.6,1171.7" stroke-width="1.6"/>
<path d="M743.6,1185.8 L744.4,1186.0 L746.8,1187.7 L747.0,1190.2" stroke-width="1.2"/>
<path d="M705.0,1153.7 L702.8,1152.1 L701.8,1149.0 L701.2,1147.0" stroke-width="1.4"/>
<path d="M672.1,1116.4 L669.9,1115.6 L666.4,1114.9 L665.5,1112.7" stroke-width="1.6"/>
<path d="M674.0,1138.3 L676.2,1138.2 L675.2,1136.2 L677.2,1134.9" stroke-width="1.4"/>
<path d="M715.2,1169.3 L712.6,1171.5 L711.0,1170.8 L709.0,1173.3" stroke-width="1.4"/>
<path d="M673.6,1139.2 L672.5,1139.2 L668.5,1142.1 L666.7,1141.8" stroke-width="1.1"/>
<path d="M675.1,1130.5 L673.1,1132.7 L673.4,1132.7 L672.1,1133.8" stroke-width="1.3"/>
<path d="M641.4,1113.6 L639.1,1113.5 L637.6,1110.8 L635.6,1110.2" stroke-width="1.4"/>
<path d="M702.9,1163.9 L705.7,1166.1 L706.6,1168.4 L707.7,1169.5" stroke-width="1.3"/>
<path d="M677.7,1125.6 L676.4,1124.6 L673.3,1121.1 L672.6,1119.4" stroke-width="1.0"/>
<path d="M686.4,1137.2 L685.3,1139.7 L683.6,1140.3 L680.8,1143.3" stroke-width="1.2"/>
<path d="M651.2,1114.0 L650.5,1112.5 L648.0,1112.5 L648.0,1111.3" stroke-width="1.6"/>
<path d="M652.9,1113.2 L650.7,1111.8 L650.7,1111.4 L649.1,1111.1" stroke-width="1.2"/>
<path d="M738.4,1169.7 L736.6,1169.2 L734.9,1165.3 L734.1,1164.6" stroke-width="1.1"/>
<path d="M681.3,1140.3 L678.8,1138.9 L676.9,1136.0 L676.2,1135.1" stroke-width="1.5"/>
<path d="M732.4,1162.8 L734.6,1161.0 L735.2,1156.9 L735.7,1155.6" stroke-width="1.1"/>
<path d="M668.2,1121.7 L669.6,1122.8 L668.7,1124.9 L670.8,1125.7" stroke-width="1.5"/>
<path d="M677.2,1117.8 L674.2,1115.4 L671.5,1115.4 L670.5,1112.6" stroke-width="1.5"/>
<path d="M751.3,1187.9 L752.1,1188.0 L755.4,1190.2 L756.5,1191.3" stroke-width="1.0"/>
<path d="M735.2,1187.2 L733.6,1188.2 L732.8,1189.7 L731.8,1190.0" stroke-width="1.6"/>
<path d="M723.7,1175.3 L723.4,1173.9 L721.2,1173.6 L721.3,1171.2" stroke-width="1.4"/>
<path d="M643.7,1109.3 L644.3,1107.7 L645.5,1102.6 L647.6,1101.3" stroke-width="1.3"/>
<path d="M728.7,1177.5 L728.6,1175.3 L727.3,1175.7 L725.3,1174.6" stroke-width="1.6"/>
<path d="M697.3,1149.7 L696.1,1152.2 L695.3,1153.1 L694.1,1155.9" stroke-width="1.1"/>
<path d="M725.7,1155.2 L728.4,1154.0 L730.7,1149.9 L731.9,1148.7" stroke-width="1.3"/>
<path d="M710.5,1152.7 L713.1,1149.9 L715.9,1149.8 L717.0,1147.1" stroke-width="1.0"/>
<path d="M662.0,1092.3 L668.0,1104.0 L674.9,1116.7 L678.5,1127.0 L682.6,1137.2 L687.0,1149.0 L691.5,1161.5 L693.0,1166.0" stroke="#4b4e55" stroke-width="4.800000000000001"/>
<path d="M684.0,1139.0 L692.8,1137.2 L703.1,1134.6" stroke="#4b4e55" stroke-width="3.8000000000000003"/>
<path d="M692.8,1138.0 L700.0,1144.0 L708.2,1150.0 L714.0,1155.5 L721.0,1160.3 L726.0,1165.0 L731.3,1170.5 L734.0,1177.0" stroke="#4b4e55" stroke-width="4.4"/>
<path d="M705.0,1149.0 L700.0,1158.0" stroke="#4b4e55" stroke-width="3.7"/>
<path d="M662.0,1092.3 L668.0,1104.0 L674.9,1116.7 L678.5,1127.0 L682.6,1137.2 L687.0,1149.0 L691.5,1161.5 L693.0,1166.0" stroke="#fff" stroke-width="2.6"/>
<path d="M684.0,1139.0 L692.8,1137.2 L703.1,1134.6" stroke="#fff" stroke-width="1.6"/>
<path d="M692.8,1138.0 L700.0,1144.0 L708.2,1150.0 L714.0,1155.5 L721.0,1160.3 L726.0,1165.0 L731.3,1170.5 L734.0,1177.0" stroke="#fff" stroke-width="2.2"/>
<path d="M705.0,1149.0 L700.0,1158.0" stroke="#fff" stroke-width="1.5"/>
<path d="M609.0,1100.0 L610.3,1097.0 L610.4,1094.1 L612.7,1093.3 L613.0,1090.0" stroke-width="1.6"/>
<path d="M611.0,1094.0 L611.7,1093.1 L613.7,1092.0 L616.0,1092.0" stroke-width="1.4"/>
</g>
<g fill="none" stroke="#4b4e55" stroke-linejoin="round">
<path d="M513.0,1086.0 L511.7,1084.4 L511.1,1082.9 L509.2,1080.4" stroke-width="1.7"/>
<path d="M515.0,1092.0 L517.2,1091.8 L519.2,1092.0 L521.2,1092.5" stroke-width="2.2"/>
<path d="M513.0,1098.0 L512.5,1096.6 L512.2,1095.2 L513.4,1095.0" stroke-width="1.4"/>
<path d="M517.0,1102.0 L514.7,1101.9 L512.3,1103.8 L511.3,1104.9" stroke-width="1.6"/>
<path d="M522.0,1100.0 L520.8,1100.1 L521.9,1098.2 L520.3,1097.3" stroke-width="2.2"/>
<path d="M527.0,1097.0 L525.2,1096.1 L525.7,1094.6 L523.7,1092.6" stroke-width="1.8"/>
<path d="M531.0,1092.0 L532.4,1091.9 L532.4,1092.3 L534.3,1090.9" stroke-width="1.7"/>
<path d="M533.0,1087.0 L533.3,1087.3 L532.2,1089.9 L530.5,1090.8" stroke-width="2.0"/>
<path d="M529.0,1083.0 L528.0,1080.1 L527.7,1079.0 L528.7,1077.4" stroke-width="1.5"/>
<path d="M523.0,1081.0 L520.1,1079.5 L519.3,1080.7 L517.2,1079.7" stroke-width="2.0"/>
<path d="M519.0,1089.0 L521.2,1087.7 L522.4,1086.1 L522.6,1085.5" stroke-width="1.8"/>
<path d="M524.0,1092.0 L526.1,1094.6 L526.7,1095.3 L526.7,1097.1" stroke-width="1.7"/>
<path d="M537.0,1090.0 L536.7,1089.9 L534.4,1091.3 L534.1,1092.5" stroke-width="1.7"/>
<path d="M541.0,1093.0 L541.0,1090.5 L543.7,1090.4 L544.1,1088.5" stroke-width="1.7"/>
<path d="M511,1100 L517,1096 L522,1104 L516,1110 L512,1107 Z" fill="#4b4e55" stroke-width="1"/>
</g>
<g clip-path="url(#ak)" fill="none" stroke="#4b4e55" stroke-linejoin="round">
<path d="M446.0,1166.0 L447.6,1166.4 L448.2,1164.6 L450.9,1164.8" stroke-width="1.3"/>
<path d="M450.0,1160.0 L451.6,1159.0 L455.2,1160.2 L456.2,1158.7" stroke-width="1.5"/>
<path d="M455.0,1156.0 L456.7,1156.5 L458.8,1155.1 L461.2,1155.8" stroke-width="1.7"/>
<path d="M460.0,1150.0 L460.4,1152.8 L463.5,1153.2 L463.6,1156.5" stroke-width="1.7"/>
<path d="M465.0,1146.0 L467.5,1147.3 L469.3,1149.2 L470.0,1151.6" stroke-width="1.2"/>
<path d="M452.0,1170.0 L453.1,1169.9 L454.8,1170.7 L456.2,1171.2" stroke-width="1.3"/>
<path d="M458.0,1164.0 L459.6,1164.8 L462.8,1166.7 L463.6,1166.6" stroke-width="1.5"/>
<path d="M463.0,1158.0 L463.9,1157.8 L465.2,1157.6 L467.2,1157.9" stroke-width="1.2"/>
<path d="M468.0,1152.0 L469.2,1153.1 L472.9,1154.7 L473.5,1154.5" stroke-width="1.5"/>
<path d="M447.0,1174.0 L447.3,1174.5 L449.7,1174.5 L451.0,1175.4" stroke-width="1.3"/>
<path d="M456.0,1172.0 L458.9,1173.5 L458.7,1174.3 L461.4,1174.3" stroke-width="1.7"/>
<path d="M476.0,1119.0 L476.3,1116.7 L475.8,1116.2 L475.1,1114.8" stroke-width="1.4"/>
<path d="M482.0,1123.0 L482.9,1122.0 L482.8,1119.7 L482.8,1117.6" stroke-width="1.2"/>
<path d="M488.0,1117.0 L488.9,1114.4 L488.9,1113.0 L489.8,1111.4" stroke-width="1.8"/>
<path d="M494.0,1113.0 L494.0,1111.9 L492.9,1110.5 L491.8,1108.7" stroke-width="1.2"/>
<path d="M500.0,1109.0 L500.3,1108.0 L500.5,1106.5 L501.3,1103.8" stroke-width="1.8"/>
<path d="M506.0,1105.0 L505.1,1102.5 L504.5,1101.1 L505.1,1100.2" stroke-width="1.5"/>
<path d="M386.0,1195.0 L385.0,1194.1 L384.9,1192.1 L383.7,1190.2" stroke-width="1.3"/>
<path d="M392.0,1191.0 L391.2,1188.5 L391.2,1186.3 L389.9,1184.7" stroke-width="1.9"/>
<path d="M398.0,1187.0 L396.4,1185.0 L396.5,1183.5 L395.1,1181.6" stroke-width="1.7"/>
<path d="M404.0,1183.0 L403.9,1182.2 L405.3,1180.1 L405.6,1178.7" stroke-width="1.6"/>
<path d="M410.0,1178.0 L409.7,1175.9 L409.0,1175.5 L408.8,1173.0" stroke-width="1.9"/>
<path d="M416.0,1173.0 L416.3,1170.9 L415.4,1169.3 L415.3,1168.7" stroke-width="1.8"/>
<path d="M422.0,1167.0 L421.6,1164.4 L420.2,1163.4 L420.4,1160.9" stroke-width="1.9"/>
<path d="M428.0,1161.0 L427.0,1159.8 L427.3,1158.1 L425.5,1155.5" stroke-width="1.2"/>
<path d="M436.0,1155.0 L434.6,1152.2 L434.4,1150.7 L433.9,1149.2" stroke-width="1.7"/>
<path d="M442.0,1149.0 L442.1,1147.0 L442.5,1145.3 L442.7,1142.9" stroke-width="1.5"/>
<path d="M368.0,1200.0 L368.0,1198.3 L367.8,1196.1 L368.4,1194.5" stroke-width="1.8"/>
<path d="M356.0,1205.0 L356.2,1203.7 L356.3,1201.1 L357.2,1198.3" stroke-width="1.7"/>
<path d="M344.0,1211.0 L343.7,1209.3 L345.4,1208.2 L344.8,1206.9" stroke-width="1.4"/>
<path d="M332.0,1217.0 L333.8,1215.2 L333.7,1214.4 L335.0,1211.7" stroke-width="1.9"/>
<path d="M320.0,1222.0 L320.7,1220.6 L320.6,1220.1 L321.9,1218.4" stroke-width="1.5"/>
</g>
<path d="M338.8,905.4 L345.1,897.8 L365.1,892.8 L382.6,872.8 L405.2,859.0 L425.2,850.3 L429.0,847.8 L433.0,852.0 L440.2,855.3 L460.3,860.3 L475.3,867.8 L500.4,870.3 L525.4,870.3 L540.0,872.0 L551.7,875.3 L592.8,1085.9 L600.5,1085.9 L606.9,1082.1 L615.3,1080.8 L615.3,1088.5 L622.3,1092.3 L636.4,1100.0 L640.3,1105.1 L649.2,1093.6 L649.9,1088.5 L658.2,1083.3 L664.6,1087.2 L667.2,1092.3 L676.2,1098.7 L689.0,1106.4 L701.8,1119.2 L713.3,1129.5 L721.0,1138.5 L733.8,1139.7 L747.9,1142.3 L750.5,1151.3 L754.4,1160.3 L751.8,1173.1 L746.7,1174.4 L741.5,1169.2 L740.3,1175.6 L733.8,1171.8 L734.5,1180.8 L724.9,1185.9 L715.9,1179.5 L708.2,1171.8 L703.1,1162.8 L695.4,1162.8 L693.0,1155.0 L690.3,1159.6 L682.6,1152.6 L672.3,1144.9 L662.0,1132.0 L656.9,1121.8 L646.7,1116.7 L641.5,1115.4 L636.4,1112.8 L622.3,1106.4 L610.8,1101.3 L606.0,1097.0 L600.0,1097.5 L592.8,1096.4 L580.3,1095.2 L560.2,1097.7 L550.2,1090.2 L535.2,1087.7 L530.2,1077.7 L517.7,1077.7 L507.7,1090.2 L512.7,1102.7 L497.6,1112.7 L480.1,1125.2 L472.6,1122.7 L482.6,1115.2 L475.1,1110.2 L477.6,1097.7 L490.1,1082.7 L495.1,1072.6 L485.1,1080.2 L472.6,1092.7 L462.6,1105.2 L447.6,1122.7 L455.1,1130.2 L447.6,1145.2 L430.1,1157.8 L417.5,1172.8 L395.0,1190.3 L380.0,1198.0 L365.5,1200.3 L350.4,1207.8 L335.4,1215.3 L322.9,1221.6 L307.9,1225.3 L302.9,1221.6 L312.9,1214.1 L325.4,1215.3 L332.9,1207.8 L345.4,1197.8 L363.0,1197.8 L375.5,1185.3 L390.0,1175.3 L402.5,1162.8 L405.0,1147.7 L412.5,1132.7 L400.0,1138.0 L393.0,1140.0 L392.5,1127.7 L383.0,1132.7 L370.5,1130.2 L355.4,1132.7 L357.9,1120.2 L350.4,1107.7 L330.4,1100.2 L321.6,1087.7 L322.9,1075.2 L316.6,1060.1 L322.9,1047.6 L332.9,1037.6 L340.4,1027.6 L352.9,1028.8 L360.4,1020.1 L370.5,1022.6 L378.0,1015.1 L375.5,1005.1 L380.5,997.6 L375.5,992.6 L360.4,997.6 L350.4,992.6 L327.9,987.5 L325.4,975.0 L314.1,962.5 L340.1,950.4 L355.1,950.4 L357.6,961.7 L375.1,960.4 L378.0,952.0 L372.6,947.9 L362.6,937.9 L355.1,920.4ZM267.8,1000.0 L272.8,997.6 L282.9,1003.8 L296.6,1015.1 L287.9,1020.1 L284.1,1011.3 L271.6,1007.6ZM300.0,1090.0 L306.0,1086.0 L314.0,1088.0 L316.0,1094.0 L311.0,1100.0 L303.0,1098.0ZM440.1,1167.8 L455.1,1152.8 L467.6,1140.2 L472.6,1147.7 L467.6,1162.8 L452.6,1177.8 L442.6,1180.3ZM237.8,1247.9 L250.3,1240.4 L262.0,1234.0 L262.0,1240.0 L250.0,1246.0ZM265.0,1236.0 L275.3,1230.0 L283.0,1230.0 L278.0,1237.0 L268.0,1240.0ZM110.1,1232.9 L118.0,1234.0 L125.0,1240.0 L116.0,1240.0ZM127.0,1240.0 L138.0,1239.0 L146.0,1243.0 L133.0,1245.0ZM160.0,1241.0 L167.7,1239.0 L171.0,1243.0 L165.0,1246.0ZM187.0,1247.0 L192.0,1246.0 L192.0,1250.0 L188.0,1250.0ZM213.0,1246.0 L218.0,1245.0 L218.0,1249.0 L214.0,1249.0Z" fill="none" stroke="#4b4e55" stroke-width="1.05" stroke-linejoin="round"/>
<path d="M2,1155 L6,1154.5 L11,1159 L12,1162 L7,1161 L3,1158Z M50,1206 L53,1204 L57,1205 L55,1208Z M66,1217 L69,1222 L72,1227 L74,1229 M80.5,1219 a1.8,1.8 0 1 0 3.6,0 a1.8,1.8 0 1 0 -3.6,0 M62,1210 L64,1213 M93,1236 L97,1238 M100,1229 L102,1233 M245,1147 L249,1148 M250,1162 L254,1164 M238,1068 L241,1071" fill="none" stroke="#4b4e55" stroke-width="1"/>
</svg>
<svg width="1638" height="1266" viewBox="0 0 1638 1266" style="position:absolute;left:0;top:0" font-family="Liberation Sans, Arial, sans-serif">
<text x="819.8" y="73" font-size="74.7" text-anchor="middle" fill="#000">Seasonal Temperature Outlook</text>
<text x="577.8" y="131" font-size="33.2" font-weight="bold">Valid:</text>
<text x="682.3" y="131" font-size="33.3">Sep-Oct-Nov 2025</text>
<text x="577" y="168" font-size="33.2" font-weight="bold">Issued:</text>
<text x="710.3" y="168" font-size="33.2">August 21, 2025</text>
<text x="709.7" y="246.3" font-size="37.9" font-weight="bold" text-anchor="middle" stroke="#fff" stroke-width="5" stroke-linejoin="round" paint-order="stroke" fill="#000">Equal</text>
<text x="709.7" y="289" font-size="37.7" font-weight="bold" text-anchor="middle" stroke="#fff" stroke-width="5" stroke-linejoin="round" paint-order="stroke" fill="#000">Chances</text>
<text x="559.8" y="648.9" font-size="37.3" font-weight="bold" text-anchor="middle" stroke="#fff" stroke-width="5" stroke-linejoin="round" paint-order="stroke" fill="#000">Above</text>
<text x="1479" y="296.6" font-size="37.3" font-weight="bold" text-anchor="middle" stroke="#fff" stroke-width="5" stroke-linejoin="round" paint-order="stroke" fill="#000">Above</text>
<text x="1322.5" y="934.8" font-size="37.3" font-weight="bold" text-anchor="middle" stroke="#fff" stroke-width="5" stroke-linejoin="round" paint-order="stroke" fill="#000">Above</text>
<text x="422.6" y="919.2" font-size="29.2" font-weight="bold" text-anchor="middle" stroke="#fff" stroke-width="5" stroke-linejoin="round" paint-order="stroke" fill="#000">Above</text>
<text x="544.8" y="932.2" font-size="29.6" font-weight="bold" text-anchor="middle" stroke="#fff" stroke-width="5" stroke-linejoin="round" paint-order="stroke" fill="#000">Equal</text>
<text x="544.6" y="965.7" font-size="29.2" font-weight="bold" text-anchor="middle" stroke="#fff" stroke-width="5" stroke-linejoin="round" paint-order="stroke" fill="#000">Chances</text>
<text x="239.5" y="1065" font-size="29.6" font-weight="bold" text-anchor="middle" stroke="#fff" stroke-width="5" stroke-linejoin="round" paint-order="stroke" fill="#000">Equal</text>
<text x="239" y="1098" font-size="29.2" font-weight="bold" text-anchor="middle" stroke="#fff" stroke-width="5" stroke-linejoin="round" paint-order="stroke" fill="#000">Chances</text>
<text x="63" y="1154.4" font-size="29.6" font-weight="bold" text-anchor="middle" stroke="#fff" stroke-width="5" stroke-linejoin="round" paint-order="stroke" fill="#000">Equal</text>
<text x="63" y="1187" font-size="29.2" font-weight="bold" text-anchor="middle" stroke="#fff" stroke-width="5" stroke-linejoin="round" paint-order="stroke" fill="#000">Chances</text>
<g font-weight="bold" text-anchor="middle">
<text x="1083.3" y="946.6" font-size="26.8">Probability</text>
<text x="1083.6" y="976.2" font-size="27">(Percent Chance)</text>
<text x="959" y="1003.5" font-size="20.2">Above</text><text x="959" y="1026.7" font-size="20.2">Normal</text>
<text x="1083.6" y="1001.3" font-size="20.2">Near</text><text x="1083.6" y="1024.4" font-size="20.2">Normal</text>
<text x="1217.2" y="1002.7" font-size="20.2">Below</text><text x="1217.2" y="1026" font-size="20.2">Normal</text>
<text x="1083.6" y="1142.7" font-size="20.2">Equal</text><text x="1083.6" y="1165.8" font-size="20.2">Chances</text>
</g>
<rect x="893.5" y="1038" width="46.5" height="20" fill="#ecb870" stroke="#808080" stroke-width="1"/>
<text x="951" y="1054.5" font-size="18.5">33-40%</text>
<rect x="1152.5" y="1037.5" width="45.5" height="20" fill="#c4cee8" stroke="#7a7a7a" stroke-width="2"/>
<text x="1208.7" y="1053.5" font-size="18.5">33-40%</text>
<rect x="893.5" y="1070.3" width="46.5" height="20" fill="#e89050" stroke="#808080" stroke-width="1"/>
<text x="951" y="1086.8" font-size="18.5">40-50%</text>
<rect x="1152.5" y="1069.8" width="45.5" height="20" fill="#a5c8e4" stroke="#7a7a7a" stroke-width="2"/>
<text x="1208.7" y="1085.8" font-size="18.5">40-50%</text>
<rect x="893.5" y="1102.5" width="46.5" height="20" fill="#e05c38" stroke="#808080" stroke-width="1"/>
<text x="951" y="1119.0" font-size="18.5">50-60%</text>
<rect x="1152.5" y="1102.0" width="45.5" height="20" fill="#7db9e4" stroke="#7a7a7a" stroke-width="2"/>
<text x="1208.7" y="1118.0" font-size="18.5">50-60%</text>
<rect x="893.5" y="1134.5" width="46.5" height="20" fill="#d04024" stroke="#808080" stroke-width="1"/>
<text x="951" y="1151.0" font-size="18.5">60-70%</text>
<rect x="1152.5" y="1134.0" width="45.5" height="20" fill="#3ea5de" stroke="#7a7a7a" stroke-width="2"/>
<text x="1208.7" y="1150.0" font-size="18.5">60-70%</text>
<rect x="893.5" y="1166.8" width="46.5" height="20" fill="#b83008" stroke="#808080" stroke-width="1"/>
<text x="951" y="1183.3" font-size="18.5">70-80%</text>
<rect x="1152.5" y="1166.3" width="45.5" height="20" fill="#0064aa" stroke="#7a7a7a" stroke-width="2"/>
<text x="1208.7" y="1182.3" font-size="18.5">70-80%</text>
<rect x="893.5" y="1198.9" width="46.5" height="20" fill="#8c2804" stroke="#808080" stroke-width="1"/>
<text x="951" y="1215.4" font-size="18.5">80-90%</text>
<rect x="1152.5" y="1198.4" width="45.5" height="20" fill="#321e78" stroke="#7a7a7a" stroke-width="2"/>
<text x="1208.7" y="1214.4" font-size="18.5">80-90%</text>
<rect x="893.5" y="1231.2" width="46.5" height="20" fill="#68240c" stroke="#808080" stroke-width="1"/>
<text x="951" y="1247.7" font-size="18.5">90-100%</text>
<rect x="1152.5" y="1230.7" width="45.5" height="20" fill="#231955" stroke="#7a7a7a" stroke-width="2"/>
<text x="1208.7" y="1246.7" font-size="18.5">90-100%</text>
<rect x="1026" y="1036" width="45" height="19.5" fill="#dcdede" stroke="#808080" stroke-width="2"/>
<rect x="1026" y="1068.5" width="45" height="19.5" fill="#a0a0a0" stroke="#808080" stroke-width="2"/>
<text x="1079" y="1051.5" font-size="18.5">33-40%</text><text x="1079" y="1084.7" font-size="18.5">40-50%</text>
<rect x="1061" y="1177" width="45" height="19.5" fill="#fff" stroke="#808080" stroke-width="2"/>
<g text-anchor="middle" font-size="24">
<text x="807.2" y="1056">Leaning</text><text x="807.2" y="1082.7">Above</text>
<text x="807.2" y="1166">Likely</text><text x="807.2" y="1192.7">Above</text>
<text x="1362.8" y="1056">Leaning</text><text x="1362.8" y="1082.7">Below</text>
<text x="1362.8" y="1166">Likely</text><text x="1362.8" y="1192.7">Below</text>
</g>
<g fill="none" stroke="#000" stroke-width="1.3">
<path d="M886,1035.7 C869.25,1035.7 872.6,1049.5 869.25,1056.4 C865.9,1060.3 857.525,1063.3 852.5,1063.3 C857.525,1063.3 865.9,1066.3 869.25,1069.975 C872.6,1076.65 869.25,1090 886,1090"/>
<path d="M886,1100.7 C869.25,1100.7 872.6,1137.25 869.25,1155.525 C865.9,1170.8 857.525,1173.8 852.5,1173.8 C857.525,1173.8 865.9,1176.8 869.25,1192.1 C872.6,1210.4 869.25,1247 886,1247"/>
<path d="M1284,1035.7 C1301.2,1035.7 1297.76,1049.5 1301.2,1056.4 C1304.64,1060.3 1313.24,1063.3 1318.4,1063.3 C1313.24,1063.3 1304.64,1066.3 1301.2,1069.975 C1297.76,1076.65 1301.2,1090 1284,1090"/>
<path d="M1284,1100.7 C1301.2,1100.7 1297.76,1136.8000000000002 1301.2,1154.8500000000001 C1304.64,1169.9 1313.24,1172.9 1318.4,1172.9 C1313.24,1172.9 1304.64,1175.9 1301.2,1191.1750000000002 C1297.76,1209.45 1301.2,1246 1284,1246"/>
</g>
<g id="doc">
<circle cx="156.7" cy="51.3" r="46.4" fill="#1c8ed2" stroke="#1b5f95" stroke-width="0.8"/>
<circle cx="156.7" cy="51.3" r="35.8" fill="#fff" stroke="#1b5f95" stroke-width="0.7"/>
<path id="docTop" d="M118.75,44.27 A38.6,38.6 0 0 1 194.65,44.27" fill="none"/>
<path id="docBot" d="M114.10,62.32 A44.0,44.0 0 0 0 199.48,61.57" fill="none"/>
<text font-size="7.2" font-weight="bold" fill="#fff" letter-spacing="0"><textPath href="#docTop" textLength="107" lengthAdjust="spacing">DEPARTMENT OF COMMERCE</textPath></text>
<text font-size="7.2" font-weight="bold" fill="#fff"><textPath href="#docBot" textLength="110" lengthAdjust="spacing">UNITED STATES OF AMERICA</textPath></text>
<circle cx="115.49999999999999" cy="51.8" r="0.9" fill="#fff"/><circle cx="197.89999999999998" cy="51.8" r="0.9" fill="#fff"/>
<path d="M139.2,45 L174.8,45 L174.8,74 Q174,78.5 169,80.5 L156.6,85.8 L145,80.5 Q140,78.5 139.2,74 Z" fill="#e0a818" stroke="#1a1a1a" stroke-width="1"/>
<path d="M139.2,45 L174.8,45 L174.8,63.6 L139.2,63.6 Z" fill="#1c8ed2" stroke="#1a1a1a" stroke-width="1"/>
<rect x="136.5" y="44" width="40.8" height="1.6" fill="#1a1a1a"/>
<rect x="139.7" y="60.2" width="34.6" height="3.2" fill="#0d2a40"/>
<path d="M142,55.5 L152,50 L152,58.5 Z M153,49 L158,47.5 L158,58.8 L153,58.6 Z M159,47.2 L163.5,48 L163.5,58.8 L159,58.8 Z M164.5,48.5 L167.8,50 L167.8,58.5 L164.5,58.8 Z" fill="#f2f2f2" stroke="#222" stroke-width="0.4"/>
<path d="M146,59 L168,59 L166.5,61 L148,61 Z" fill="#111"/>
<path d="M143,53.3 L168,53.3 M145,56 L168,56" stroke="#333" stroke-width="0.5" fill="none"/>
<rect x="155.3" y="63.6" width="2.8" height="17.5" fill="#1a1a1a"/>
<path d="M150,80.5 L156.6,84.6 L163.5,80.5 L160,80 L156.6,82 L153.5,80 Z" fill="#1a1a1a"/>
<circle cx="152.8" cy="67" r="0.7" fill="#fff"/><circle cx="160.6" cy="67" r="0.7" fill="#fff"/>
<path d="M144.3,21.3 L146.9,28.7 L150.4,34.8 L153.9,39.6 L156,36 L155.4,32 L153,27.6 L148.7,23.5 Z" fill="#3b2a12"/>
<path d="M169.5,21.7 L166.9,28.7 L164.3,34.8 L160.8,39.6 L158.8,36 L159.3,32 L160.8,27.6 L165.2,23.5 Z" fill="#3b2a12"/>
<path d="M147.5,25.5 L151,31.5 L153.6,35.5 L153.2,31 L150.5,27 Z M166.3,25.8 L163.2,31.5 L161,35.5 L161.3,31 L163.6,27 Z" fill="#8a6a1c"/>
<path d="M155.2,30.5 Q157.2,27.4 159.3,30.5 L159.8,41 L154.8,41 Z" fill="#c9a12a" stroke="#3b2a12" stroke-width="0.7"/>
<path d="M155,28.4 L158.6,27.2 L160,29.4 L157.2,30.6 L155.4,30.2 Z" fill="#2a1c0c"/>
<rect x="149.3" y="41.2" width="16" height="1.8" rx="0.6" fill="#1a1a1a"/>
</g>
<g id="noaa">
<clipPath id="nclip"><circle cx="1481.7" cy="52.1" r="46.9"/></clipPath>
<g clip-path="url(#nclip)">
<rect x="1430" y="0" width="104" height="104" fill="#0a86cc"/>
<path d="M1433.0,13.0 L1443.5,25.2 C1451.3,29.5 1456.5,38.2 1463.4,48.7 C1469.5,56.5 1476.5,61.3 1482.6,61.3 C1489.5,61.3 1496.5,55.6 1500.8,46.9 C1505.1,38.2 1510.4,28.7 1518.6,23.9 L1532.9,13.0 L1532.9,-4.3 L1433.0,-4.3 Z" fill="#0a318c"/>
<path d="M1433.0,21.7 L1443.5,25.2 C1451.3,29.5 1456.5,38.2 1463.4,48.7 C1469.5,56.5 1476.5,61.3 1482.6,61.3 C1489.5,61.3 1496.5,55.6 1500.8,46.9 C1505.1,38.2 1510.4,28.7 1518.6,23.9 L1529.5,20.0 L1529.5,28.7 L1523.4,30.8 C1519.9,36.5 1512.1,48.7 1503.4,54.3 C1499.1,57.3 1494.7,59.9 1490.8,60.8 C1495.6,60.5 1499.1,60.8 1502.1,62.1 C1498.2,62.4 1493.8,63.0 1489.5,64.7 C1486.0,66.5 1482.6,68.6 1479.1,69.9 C1474.7,71.1 1470.4,70.8 1466.9,69.5 C1472.1,68.6 1477.3,66.0 1480.8,63.9 C1475.6,63.4 1471.3,62.7 1468.7,61.7 C1463.4,59.9 1459.1,57.8 1454.8,54.3 C1449.5,50.0 1443.5,41.7 1436.9,39.1 L1430.4,38.2 Z" fill="#fff"/>
</g>
<text x="0" y="0" font-size="16.6" font-weight="bold" fill="#fff" text-anchor="middle" transform="translate(1481.5,35.7) scale(0.78,1)" letter-spacing="0.4">NOAA</text>
</g>
</svg>
</body></html>
